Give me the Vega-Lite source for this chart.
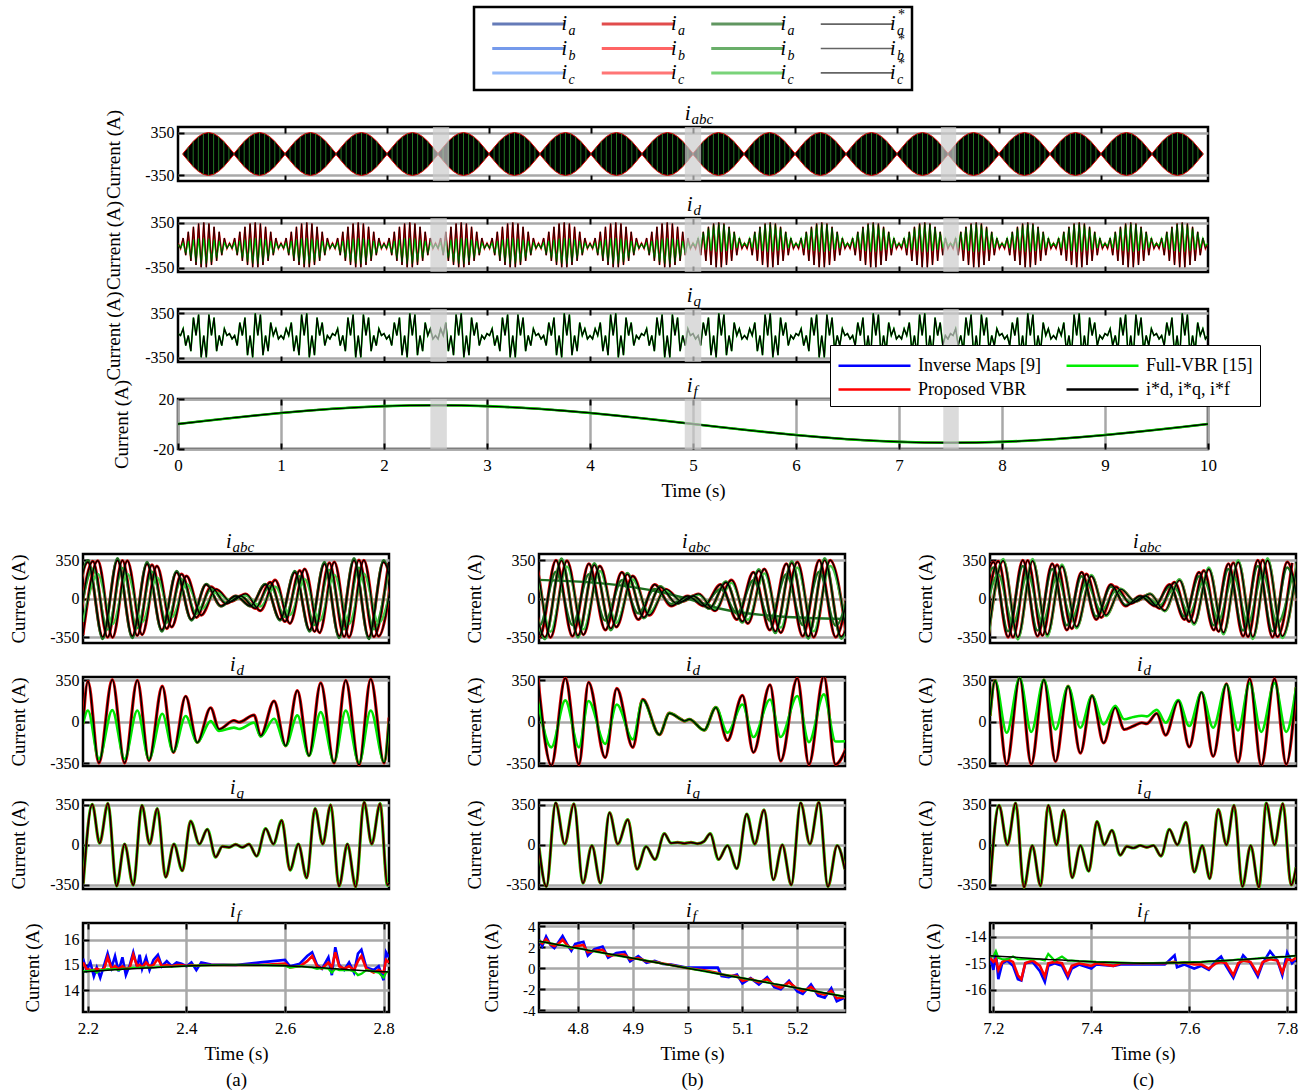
{
"$schema":"https://vega.github.io/schema/vega-lite/v6.json",
"background":"white",
"padding":{"left":8,"top":5,"right":5,"bottom":0},
"config":{
"font":"Liberation Serif",
"view":{"stroke":"black","strokeWidth":2.5},
"axis":{"labelFont":"Liberation Serif","titleFont":"Liberation Serif","labelFontSize":16,"titleFontSize":19,"titleFontWeight":"normal","labelColor":"black","titleColor":"black","domain":false,"tickColor":"black","tickWidth":2,"tickSize":-6,"labelPadding":10,"gridColor":"#a8a8a8","gridWidth":2.5,"gridOpacity":1,"labelFlush":false,"labelOverlap":false,"labelExpr":"'' + datum.value"},
"axisQuantitative":{"labelOverlap":false},
"axisY":{"titlePadding":21,"labelOverlap":false},
"axisX":{"titlePadding":8,"labelPadding":14},
"legend":{"labelFont":"Liberation Serif","labelFontSize":18,"labelColor":"black","strokeColor":"black","fillColor":"white","padding":7,"symbolType":"M-3,0H3","symbolSize":576,"symbolStrokeWidth":2.5,"symbolOffset":24,"columnPadding":20,"rowPadding":1,"labelLimit":300,"labelOffset":30}
},
"datasets":{
"leg":[{"m":"Inverse Maps [9]","p":"a","s":"IMa"},{"m":"Inverse Maps [9]","p":"b","s":"IMb"},{"m":"Inverse Maps [9]","p":"c","s":"IMc"},{"m":"Proposed VBR","p":"a","s":"PVa"},{"m":"Proposed VBR","p":"b","s":"PVb"},{"m":"Proposed VBR","p":"c","s":"PVc"},{"m":"Full-VBR [15]","p":"a","s":"FVa"},{"m":"Full-VBR [15]","p":"b","s":"FVb"},{"m":"Full-VBR [15]","p":"c","s":"FVc"},{"m":"Reference","p":"a","s":"Ra"},{"m":"Reference","p":"b","s":"Rb"},{"m":"Reference","p":"c","s":"Rc"}],
"bands":[{"s":2.45,"e":2.61},{"s":4.92,"e":5.08},{"s":7.43,"e":7.58}],
"topE":[
{"t":0,"u":10,"n":-10},{"t":0.05,"u":108,"n":-108},{"t":0.1,"u":206,"n":-206},{"t":0.15,"u":283,"n":-283},{"t":0.2,"u":333,"n":-333},{"t":0.25,"u":350,"n":-350},{"t":0.3,"u":333,"n":-333},{"t":0.35,"u":283,"n":-283},{"t":0.4,"u":206,"n":-206},{"t":0.45,"u":108,"n":-108},
{"t":0.5,"u":10,"n":-10},{"t":0.55,"u":108,"n":-108},{"t":0.6,"u":206,"n":-206},{"t":0.65,"u":283,"n":-283},{"t":0.7,"u":333,"n":-333},{"t":0.75,"u":350,"n":-350},{"t":0.8,"u":333,"n":-333},{"t":0.85,"u":283,"n":-283},{"t":0.9,"u":206,"n":-206},{"t":0.95,"u":108,"n":-108},
{"t":1,"u":10,"n":-10},{"t":1.05,"u":108,"n":-108},{"t":1.1,"u":206,"n":-206},{"t":1.15,"u":283,"n":-283},{"t":1.2,"u":333,"n":-333},{"t":1.25,"u":350,"n":-350},{"t":1.3,"u":333,"n":-333},{"t":1.35,"u":283,"n":-283},{"t":1.4,"u":206,"n":-206},{"t":1.45,"u":108,"n":-108},
{"t":1.5,"u":10,"n":-10},{"t":1.55,"u":108,"n":-108},{"t":1.6,"u":206,"n":-206},{"t":1.65,"u":283,"n":-283},{"t":1.7,"u":333,"n":-333},{"t":1.75,"u":350,"n":-350},{"t":1.8,"u":333,"n":-333},{"t":1.85,"u":283,"n":-283},{"t":1.9,"u":206,"n":-206},{"t":1.95,"u":108,"n":-108},
{"t":2,"u":10,"n":-10},{"t":2.05,"u":108,"n":-108},{"t":2.1,"u":206,"n":-206},{"t":2.15,"u":283,"n":-283},{"t":2.2,"u":333,"n":-333},{"t":2.25,"u":350,"n":-350},{"t":2.3,"u":333,"n":-333},{"t":2.35,"u":283,"n":-283},{"t":2.4,"u":206,"n":-206},{"t":2.45,"u":108,"n":-108},
{"t":2.5,"u":10,"n":-10},{"t":2.55,"u":108,"n":-108},{"t":2.6,"u":206,"n":-206},{"t":2.65,"u":283,"n":-283},{"t":2.7,"u":333,"n":-333},{"t":2.75,"u":350,"n":-350},{"t":2.8,"u":333,"n":-333},{"t":2.85,"u":283,"n":-283},{"t":2.9,"u":206,"n":-206},{"t":2.95,"u":108,"n":-108},
{"t":3,"u":10,"n":-10},{"t":3.05,"u":108,"n":-108},{"t":3.1,"u":206,"n":-206},{"t":3.15,"u":283,"n":-283},{"t":3.2,"u":333,"n":-333},{"t":3.25,"u":350,"n":-350},{"t":3.3,"u":333,"n":-333},{"t":3.35,"u":283,"n":-283},{"t":3.4,"u":206,"n":-206},{"t":3.45,"u":108,"n":-108},
{"t":3.5,"u":10,"n":-10},{"t":3.55,"u":108,"n":-108},{"t":3.6,"u":206,"n":-206},{"t":3.65,"u":283,"n":-283},{"t":3.7,"u":333,"n":-333},{"t":3.75,"u":350,"n":-350},{"t":3.8,"u":333,"n":-333},{"t":3.85,"u":283,"n":-283},{"t":3.9,"u":206,"n":-206},{"t":3.95,"u":108,"n":-108},
{"t":4,"u":10,"n":-10},{"t":4.05,"u":108,"n":-108},{"t":4.1,"u":206,"n":-206},{"t":4.15,"u":283,"n":-283},{"t":4.2,"u":333,"n":-333},{"t":4.25,"u":350,"n":-350},{"t":4.3,"u":333,"n":-333},{"t":4.35,"u":283,"n":-283},{"t":4.4,"u":206,"n":-206},{"t":4.45,"u":108,"n":-108},
{"t":4.5,"u":10,"n":-10},{"t":4.55,"u":108,"n":-108},{"t":4.6,"u":206,"n":-206},{"t":4.65,"u":283,"n":-283},{"t":4.7,"u":333,"n":-333},{"t":4.75,"u":350,"n":-350},{"t":4.8,"u":333,"n":-333},{"t":4.85,"u":283,"n":-283},{"t":4.9,"u":206,"n":-206},{"t":4.95,"u":108,"n":-108},
{"t":5,"u":10,"n":-10},{"t":5.05,"u":108,"n":-108},{"t":5.1,"u":206,"n":-206},{"t":5.15,"u":283,"n":-283},{"t":5.2,"u":333,"n":-333},{"t":5.25,"u":350,"n":-350},{"t":5.3,"u":333,"n":-333},{"t":5.35,"u":283,"n":-283},{"t":5.4,"u":206,"n":-206},{"t":5.45,"u":108,"n":-108},
{"t":5.5,"u":10,"n":-10},{"t":5.55,"u":108,"n":-108},{"t":5.6,"u":206,"n":-206},{"t":5.65,"u":283,"n":-283},{"t":5.7,"u":333,"n":-333},{"t":5.75,"u":350,"n":-350},{"t":5.8,"u":333,"n":-333},{"t":5.85,"u":283,"n":-283},{"t":5.9,"u":206,"n":-206},{"t":5.95,"u":108,"n":-108},
{"t":6,"u":10,"n":-10},{"t":6.05,"u":108,"n":-108},{"t":6.1,"u":206,"n":-206},{"t":6.15,"u":283,"n":-283},{"t":6.2,"u":333,"n":-333},{"t":6.25,"u":350,"n":-350},{"t":6.3,"u":333,"n":-333},{"t":6.35,"u":283,"n":-283},{"t":6.4,"u":206,"n":-206},{"t":6.45,"u":108,"n":-108},
{"t":6.5,"u":10,"n":-10},{"t":6.55,"u":108,"n":-108},{"t":6.6,"u":206,"n":-206},{"t":6.65,"u":283,"n":-283},{"t":6.7,"u":333,"n":-333},{"t":6.75,"u":350,"n":-350},{"t":6.8,"u":333,"n":-333},{"t":6.85,"u":283,"n":-283},{"t":6.9,"u":206,"n":-206},{"t":6.95,"u":108,"n":-108},
{"t":7,"u":10,"n":-10},{"t":7.05,"u":108,"n":-108},{"t":7.1,"u":206,"n":-206},{"t":7.15,"u":283,"n":-283},{"t":7.2,"u":333,"n":-333},{"t":7.25,"u":350,"n":-350},{"t":7.3,"u":333,"n":-333},{"t":7.35,"u":283,"n":-283},{"t":7.4,"u":206,"n":-206},{"t":7.45,"u":108,"n":-108},
{"t":7.5,"u":10,"n":-10},{"t":7.55,"u":108,"n":-108},{"t":7.6,"u":206,"n":-206},{"t":7.65,"u":283,"n":-283},{"t":7.7,"u":333,"n":-333},{"t":7.75,"u":350,"n":-350},{"t":7.8,"u":333,"n":-333},{"t":7.85,"u":283,"n":-283},{"t":7.9,"u":206,"n":-206},{"t":7.95,"u":108,"n":-108},
{"t":8,"u":10,"n":-10},{"t":8.05,"u":108,"n":-108},{"t":8.1,"u":206,"n":-206},{"t":8.15,"u":283,"n":-283},{"t":8.2,"u":333,"n":-333},{"t":8.25,"u":350,"n":-350},{"t":8.3,"u":333,"n":-333},{"t":8.35,"u":283,"n":-283},{"t":8.4,"u":206,"n":-206},{"t":8.45,"u":108,"n":-108},
{"t":8.5,"u":10,"n":-10},{"t":8.55,"u":108,"n":-108},{"t":8.6,"u":206,"n":-206},{"t":8.65,"u":283,"n":-283},{"t":8.7,"u":333,"n":-333},{"t":8.75,"u":350,"n":-350},{"t":8.8,"u":333,"n":-333},{"t":8.85,"u":283,"n":-283},{"t":8.9,"u":206,"n":-206},{"t":8.95,"u":108,"n":-108},
{"t":9,"u":10,"n":-10},{"t":9.05,"u":108,"n":-108},{"t":9.1,"u":206,"n":-206},{"t":9.15,"u":283,"n":-283},{"t":9.2,"u":333,"n":-333},{"t":9.25,"u":350,"n":-350},{"t":9.3,"u":333,"n":-333},{"t":9.35,"u":283,"n":-283},{"t":9.4,"u":206,"n":-206},{"t":9.45,"u":108,"n":-108},
{"t":9.5,"u":10,"n":-10},{"t":9.55,"u":108,"n":-108},{"t":9.6,"u":206,"n":-206},{"t":9.65,"u":283,"n":-283},{"t":9.7,"u":333,"n":-333},{"t":9.75,"u":350,"n":-350},{"t":9.8,"u":333,"n":-333},{"t":9.85,"u":283,"n":-283},{"t":9.9,"u":206,"n":-206},{"t":9.95,"u":108,"n":-108},
{"t":10,"u":10,"n":-10}],
"top":[
{"t":0,"d":30,"g":9,"q":30},{"t":0.025,"d":-55,"g":-47,"q":0},{"t":0.05,"d":108,"g":32,"q":108},{"t":0.075,"d":-159,"g":-135,"q":-159},{"t":0.1,"d":206,"g":62,"q":0},{"t":0.125,"d":-247,"g":-210,"q":-247},{"t":0.15,"d":283,"g":85,"q":283},{"t":0.175,"d":-312,"g":-265,"q":0},{"t":0.2,"d":333,"g":100,"q":333},{"t":0.225,"d":-346,"g":-294,"q":-346},{"t":0.25,"d":350,"g":105,"q":0},{"t":0.275,"d":-346,"g":-294,"q":-346},{"t":0.3,"d":333,"g":100,"q":333},{"t":0.325,"d":-312,"g":-265,"q":0},{"t":0.35,"d":283,"g":85,"q":283},{"t":0.375,"d":-247,"g":-210,"q":-247},{"t":0.4,"d":206,"g":62,"q":0},{"t":0.425,"d":-159,"g":-135,"q":-159},{"t":0.45,"d":108,"g":32,"q":108},{"t":0.475,"d":-55,"g":-47,"q":0},
{"t":0.5,"d":30,"g":9,"q":30},{"t":0.525,"d":-55,"g":-47,"q":-55},{"t":0.55,"d":108,"g":32,"q":0},{"t":0.575,"d":-159,"g":-135,"q":-159},{"t":0.6,"d":206,"g":62,"q":206},{"t":0.625,"d":-247,"g":-210,"q":0},{"t":0.65,"d":283,"g":85,"q":283},{"t":0.675,"d":-312,"g":-265,"q":-312},{"t":0.7,"d":333,"g":100,"q":0},{"t":0.725,"d":-346,"g":-294,"q":-346},{"t":0.75,"d":350,"g":105,"q":350},{"t":0.775,"d":-346,"g":-294,"q":0},{"t":0.8,"d":333,"g":100,"q":333},{"t":0.825,"d":-312,"g":-265,"q":-312},{"t":0.85,"d":283,"g":85,"q":0},{"t":0.875,"d":-247,"g":-210,"q":-247},{"t":0.9,"d":206,"g":62,"q":206},{"t":0.925,"d":-159,"g":-135,"q":0},{"t":0.95,"d":108,"g":32,"q":108},{"t":0.975,"d":-55,"g":-47,"q":-55},
{"t":1,"d":30,"g":9,"q":0},{"t":1.025,"d":-55,"g":-47,"q":-55},{"t":1.05,"d":108,"g":32,"q":108},{"t":1.075,"d":-159,"g":-135,"q":0},{"t":1.1,"d":206,"g":62,"q":206},{"t":1.125,"d":-247,"g":-210,"q":-247},{"t":1.15,"d":283,"g":85,"q":0},{"t":1.175,"d":-312,"g":-265,"q":-312},{"t":1.2,"d":333,"g":100,"q":333},{"t":1.225,"d":-346,"g":-294,"q":0},{"t":1.25,"d":350,"g":105,"q":350},{"t":1.275,"d":-346,"g":-294,"q":-346},{"t":1.3,"d":333,"g":100,"q":0},{"t":1.325,"d":-312,"g":-265,"q":-312},{"t":1.35,"d":283,"g":85,"q":283},{"t":1.375,"d":-247,"g":-210,"q":0},{"t":1.4,"d":206,"g":62,"q":206},{"t":1.425,"d":-159,"g":-135,"q":-159},{"t":1.45,"d":108,"g":32,"q":0},{"t":1.475,"d":-55,"g":-47,"q":-55},
{"t":1.5,"d":30,"g":9,"q":30},{"t":1.525,"d":-55,"g":-47,"q":0},{"t":1.55,"d":108,"g":32,"q":108},{"t":1.575,"d":-159,"g":-135,"q":-159},{"t":1.6,"d":206,"g":62,"q":0},{"t":1.625,"d":-247,"g":-210,"q":-247},{"t":1.65,"d":283,"g":85,"q":283},{"t":1.675,"d":-312,"g":-265,"q":0},{"t":1.7,"d":333,"g":100,"q":333},{"t":1.725,"d":-346,"g":-294,"q":-346},{"t":1.75,"d":350,"g":105,"q":0},{"t":1.775,"d":-346,"g":-294,"q":-346},{"t":1.8,"d":333,"g":100,"q":333},{"t":1.825,"d":-312,"g":-265,"q":0},{"t":1.85,"d":283,"g":85,"q":283},{"t":1.875,"d":-247,"g":-210,"q":-247},{"t":1.9,"d":206,"g":62,"q":0},{"t":1.925,"d":-159,"g":-135,"q":-159},{"t":1.95,"d":108,"g":32,"q":108},{"t":1.975,"d":-55,"g":-47,"q":0},
{"t":2,"d":30,"g":9,"q":30},{"t":2.025,"d":-55,"g":-47,"q":-55},{"t":2.05,"d":108,"g":32,"q":0},{"t":2.075,"d":-159,"g":-135,"q":-159},{"t":2.1,"d":206,"g":62,"q":206},{"t":2.125,"d":-247,"g":-210,"q":0},{"t":2.15,"d":283,"g":85,"q":283},{"t":2.175,"d":-312,"g":-265,"q":-312},{"t":2.2,"d":333,"g":100,"q":0},{"t":2.225,"d":-346,"g":-294,"q":-346},{"t":2.25,"d":350,"g":105,"q":350},{"t":2.275,"d":-346,"g":-294,"q":0},{"t":2.3,"d":333,"g":100,"q":333},{"t":2.325,"d":-312,"g":-265,"q":-312},{"t":2.35,"d":283,"g":85,"q":0},{"t":2.375,"d":-247,"g":-210,"q":-247},{"t":2.4,"d":206,"g":62,"q":206},{"t":2.425,"d":-159,"g":-135,"q":0},{"t":2.45,"d":108,"g":32,"q":108},{"t":2.475,"d":-55,"g":-47,"q":-55},
{"t":2.5,"d":30,"g":9,"q":0},{"t":2.525,"d":-55,"g":-47,"q":-55},{"t":2.55,"d":108,"g":32,"q":108},{"t":2.575,"d":-159,"g":-135,"q":0},{"t":2.6,"d":206,"g":62,"q":206},{"t":2.625,"d":-247,"g":-210,"q":-247},{"t":2.65,"d":283,"g":85,"q":0},{"t":2.675,"d":-312,"g":-265,"q":-312},{"t":2.7,"d":333,"g":100,"q":333},{"t":2.725,"d":-346,"g":-294,"q":0},{"t":2.75,"d":350,"g":105,"q":350},{"t":2.775,"d":-346,"g":-294,"q":-346},{"t":2.8,"d":333,"g":100,"q":0},{"t":2.825,"d":-312,"g":-265,"q":-312},{"t":2.85,"d":283,"g":85,"q":283},{"t":2.875,"d":-247,"g":-210,"q":0},{"t":2.9,"d":206,"g":62,"q":206},{"t":2.925,"d":-159,"g":-135,"q":-159},{"t":2.95,"d":108,"g":32,"q":0},{"t":2.975,"d":-55,"g":-47,"q":-55},
{"t":3,"d":30,"g":9,"q":30},{"t":3.025,"d":-55,"g":-47,"q":0},{"t":3.05,"d":108,"g":32,"q":108},{"t":3.075,"d":-159,"g":-135,"q":-159},{"t":3.1,"d":206,"g":62,"q":0},{"t":3.125,"d":-247,"g":-210,"q":-247},{"t":3.15,"d":283,"g":85,"q":283},{"t":3.175,"d":-312,"g":-265,"q":0},{"t":3.2,"d":333,"g":100,"q":333},{"t":3.225,"d":-346,"g":-294,"q":-346},{"t":3.25,"d":350,"g":105,"q":0},{"t":3.275,"d":-346,"g":-294,"q":-346},{"t":3.3,"d":333,"g":100,"q":333},{"t":3.325,"d":-312,"g":-265,"q":0},{"t":3.35,"d":283,"g":85,"q":283},{"t":3.375,"d":-247,"g":-210,"q":-247},{"t":3.4,"d":206,"g":62,"q":0},{"t":3.425,"d":-159,"g":-135,"q":-159},{"t":3.45,"d":108,"g":32,"q":108},{"t":3.475,"d":-55,"g":-47,"q":0},
{"t":3.5,"d":30,"g":9,"q":30},{"t":3.525,"d":-55,"g":-47,"q":-55},{"t":3.55,"d":108,"g":32,"q":0},{"t":3.575,"d":-159,"g":-135,"q":-159},{"t":3.6,"d":206,"g":62,"q":206},{"t":3.625,"d":-247,"g":-210,"q":0},{"t":3.65,"d":283,"g":85,"q":283},{"t":3.675,"d":-312,"g":-265,"q":-312},{"t":3.7,"d":333,"g":100,"q":0},{"t":3.725,"d":-346,"g":-294,"q":-346},{"t":3.75,"d":350,"g":105,"q":350},{"t":3.775,"d":-346,"g":-294,"q":0},{"t":3.8,"d":333,"g":100,"q":333},{"t":3.825,"d":-312,"g":-265,"q":-312},{"t":3.85,"d":283,"g":85,"q":0},{"t":3.875,"d":-247,"g":-210,"q":-247},{"t":3.9,"d":206,"g":62,"q":206},{"t":3.925,"d":-159,"g":-135,"q":0},{"t":3.95,"d":108,"g":32,"q":108},{"t":3.975,"d":-55,"g":-47,"q":-55},
{"t":4,"d":30,"g":9,"q":0},{"t":4.025,"d":-55,"g":-47,"q":-55},{"t":4.05,"d":108,"g":32,"q":108},{"t":4.075,"d":-159,"g":-135,"q":0},{"t":4.1,"d":206,"g":62,"q":206},{"t":4.125,"d":-247,"g":-210,"q":-247},{"t":4.15,"d":283,"g":85,"q":0},{"t":4.175,"d":-312,"g":-265,"q":-312},{"t":4.2,"d":333,"g":100,"q":333},{"t":4.225,"d":-346,"g":-294,"q":0},{"t":4.25,"d":350,"g":105,"q":350},{"t":4.275,"d":-346,"g":-294,"q":-346},{"t":4.3,"d":333,"g":100,"q":0},{"t":4.325,"d":-312,"g":-265,"q":-312},{"t":4.35,"d":283,"g":85,"q":283},{"t":4.375,"d":-247,"g":-210,"q":0},{"t":4.4,"d":206,"g":62,"q":206},{"t":4.425,"d":-159,"g":-135,"q":-159},{"t":4.45,"d":108,"g":32,"q":0},{"t":4.475,"d":-55,"g":-47,"q":-55},
{"t":4.5,"d":30,"g":9,"q":30},{"t":4.525,"d":-55,"g":-47,"q":0},{"t":4.55,"d":108,"g":32,"q":108},{"t":4.575,"d":-159,"g":-135,"q":-159},{"t":4.6,"d":206,"g":62,"q":0},{"t":4.625,"d":-247,"g":-210,"q":-247},{"t":4.65,"d":283,"g":85,"q":283},{"t":4.675,"d":-312,"g":-265,"q":0},{"t":4.7,"d":333,"g":100,"q":333},{"t":4.725,"d":-346,"g":-294,"q":-346},{"t":4.75,"d":350,"g":105,"q":0},{"t":4.775,"d":-346,"g":-294,"q":-346},{"t":4.8,"d":333,"g":100,"q":333},{"t":4.825,"d":-312,"g":-265,"q":0},{"t":4.85,"d":283,"g":85,"q":283},{"t":4.875,"d":-247,"g":-210,"q":-247},{"t":4.9,"d":206,"g":62,"q":0},{"t":4.925,"d":-159,"g":-135,"q":-159},{"t":4.95,"d":108,"g":32,"q":108},{"t":4.975,"d":-55,"g":-47,"q":0},
{"t":5,"d":30,"g":28,"q":30},{"t":5.025,"d":-55,"g":-16,"q":-55},{"t":5.05,"d":108,"g":103,"q":0},{"t":5.075,"d":-159,"g":-48,"q":-159},{"t":5.1,"d":206,"g":196,"q":206},{"t":5.125,"d":-247,"g":-74,"q":0},{"t":5.15,"d":283,"g":269,"q":283},{"t":5.175,"d":-312,"g":-94,"q":-312},{"t":5.2,"d":333,"g":316,"q":0},{"t":5.225,"d":-346,"g":-104,"q":-346},{"t":5.25,"d":350,"g":333,"q":350},{"t":5.275,"d":-346,"g":-104,"q":0},{"t":5.3,"d":333,"g":316,"q":333},{"t":5.325,"d":-312,"g":-94,"q":-312},{"t":5.35,"d":283,"g":269,"q":0},{"t":5.375,"d":-247,"g":-74,"q":-247},{"t":5.4,"d":206,"g":196,"q":206},{"t":5.425,"d":-159,"g":-48,"q":0},{"t":5.45,"d":108,"g":103,"q":108},{"t":5.475,"d":-55,"g":-16,"q":-55},
{"t":5.5,"d":30,"g":28,"q":0},{"t":5.525,"d":-55,"g":-16,"q":-55},{"t":5.55,"d":108,"g":103,"q":108},{"t":5.575,"d":-159,"g":-48,"q":0},{"t":5.6,"d":206,"g":196,"q":206},{"t":5.625,"d":-247,"g":-74,"q":-247},{"t":5.65,"d":283,"g":269,"q":0},{"t":5.675,"d":-312,"g":-94,"q":-312},{"t":5.7,"d":333,"g":316,"q":333},{"t":5.725,"d":-346,"g":-104,"q":0},{"t":5.75,"d":350,"g":333,"q":350},{"t":5.775,"d":-346,"g":-104,"q":-346},{"t":5.8,"d":333,"g":316,"q":0},{"t":5.825,"d":-312,"g":-94,"q":-312},{"t":5.85,"d":283,"g":269,"q":283},{"t":5.875,"d":-247,"g":-74,"q":0},{"t":5.9,"d":206,"g":196,"q":206},{"t":5.925,"d":-159,"g":-48,"q":-159},{"t":5.95,"d":108,"g":103,"q":0},{"t":5.975,"d":-55,"g":-16,"q":-55},
{"t":6,"d":30,"g":28,"q":30},{"t":6.025,"d":-55,"g":-16,"q":0},{"t":6.05,"d":108,"g":103,"q":108},{"t":6.075,"d":-159,"g":-48,"q":-159},{"t":6.1,"d":206,"g":196,"q":0},{"t":6.125,"d":-247,"g":-74,"q":-247},{"t":6.15,"d":283,"g":269,"q":283},{"t":6.175,"d":-312,"g":-94,"q":0},{"t":6.2,"d":333,"g":316,"q":333},{"t":6.225,"d":-346,"g":-104,"q":-346},{"t":6.25,"d":350,"g":333,"q":0},{"t":6.275,"d":-346,"g":-104,"q":-346},{"t":6.3,"d":333,"g":316,"q":333},{"t":6.325,"d":-312,"g":-94,"q":0},{"t":6.35,"d":283,"g":269,"q":283},{"t":6.375,"d":-247,"g":-74,"q":-247},{"t":6.4,"d":206,"g":196,"q":0},{"t":6.425,"d":-159,"g":-48,"q":-159},{"t":6.45,"d":108,"g":103,"q":108},{"t":6.475,"d":-55,"g":-16,"q":0},
{"t":6.5,"d":30,"g":28,"q":30},{"t":6.525,"d":-55,"g":-16,"q":-55},{"t":6.55,"d":108,"g":103,"q":0},{"t":6.575,"d":-159,"g":-48,"q":-159},{"t":6.6,"d":206,"g":196,"q":206},{"t":6.625,"d":-247,"g":-74,"q":0},{"t":6.65,"d":283,"g":269,"q":283},{"t":6.675,"d":-312,"g":-94,"q":-312},{"t":6.7,"d":333,"g":316,"q":0},{"t":6.725,"d":-346,"g":-104,"q":-346},{"t":6.75,"d":350,"g":333,"q":350},{"t":6.775,"d":-346,"g":-104,"q":0},{"t":6.8,"d":333,"g":316,"q":333},{"t":6.825,"d":-312,"g":-94,"q":-312},{"t":6.85,"d":283,"g":269,"q":0},{"t":6.875,"d":-247,"g":-74,"q":-247},{"t":6.9,"d":206,"g":196,"q":206},{"t":6.925,"d":-159,"g":-48,"q":0},{"t":6.95,"d":108,"g":103,"q":108},{"t":6.975,"d":-55,"g":-16,"q":-55},
{"t":7,"d":30,"g":28,"q":0},{"t":7.025,"d":-55,"g":-16,"q":-55},{"t":7.05,"d":108,"g":103,"q":108},{"t":7.075,"d":-159,"g":-48,"q":0},{"t":7.1,"d":206,"g":196,"q":206},{"t":7.125,"d":-247,"g":-74,"q":-247},{"t":7.15,"d":283,"g":269,"q":0},{"t":7.175,"d":-312,"g":-94,"q":-312},{"t":7.2,"d":333,"g":316,"q":333},{"t":7.225,"d":-346,"g":-104,"q":0},{"t":7.25,"d":350,"g":333,"q":350},{"t":7.275,"d":-346,"g":-104,"q":-346},{"t":7.3,"d":333,"g":316,"q":0},{"t":7.325,"d":-312,"g":-94,"q":-312},{"t":7.35,"d":283,"g":269,"q":283},{"t":7.375,"d":-247,"g":-74,"q":0},{"t":7.4,"d":206,"g":196,"q":206},{"t":7.425,"d":-159,"g":-48,"q":-159},{"t":7.45,"d":108,"g":103,"q":0},{"t":7.475,"d":-55,"g":-16,"q":-55},
{"t":7.5,"d":30,"g":28,"q":30},{"t":7.525,"d":-55,"g":-16,"q":0},{"t":7.55,"d":108,"g":103,"q":108},{"t":7.575,"d":-159,"g":-48,"q":-159},{"t":7.6,"d":206,"g":196,"q":0},{"t":7.625,"d":-247,"g":-74,"q":-247},{"t":7.65,"d":283,"g":269,"q":283},{"t":7.675,"d":-312,"g":-94,"q":0},{"t":7.7,"d":333,"g":316,"q":333},{"t":7.725,"d":-346,"g":-104,"q":-346},{"t":7.75,"d":350,"g":333,"q":0},{"t":7.775,"d":-346,"g":-104,"q":-346},{"t":7.8,"d":333,"g":316,"q":333},{"t":7.825,"d":-312,"g":-94,"q":0},{"t":7.85,"d":283,"g":269,"q":283},{"t":7.875,"d":-247,"g":-74,"q":-247},{"t":7.9,"d":206,"g":196,"q":0},{"t":7.925,"d":-159,"g":-48,"q":-159},{"t":7.95,"d":108,"g":103,"q":108},{"t":7.975,"d":-55,"g":-16,"q":0},
{"t":8,"d":30,"g":28,"q":30},{"t":8.025,"d":-55,"g":-16,"q":-55},{"t":8.05,"d":108,"g":103,"q":0},{"t":8.075,"d":-159,"g":-48,"q":-159},{"t":8.1,"d":206,"g":196,"q":206},{"t":8.125,"d":-247,"g":-74,"q":0},{"t":8.15,"d":283,"g":269,"q":283},{"t":8.175,"d":-312,"g":-94,"q":-312},{"t":8.2,"d":333,"g":316,"q":0},{"t":8.225,"d":-346,"g":-104,"q":-346},{"t":8.25,"d":350,"g":333,"q":350},{"t":8.275,"d":-346,"g":-104,"q":0},{"t":8.3,"d":333,"g":316,"q":333},{"t":8.325,"d":-312,"g":-94,"q":-312},{"t":8.35,"d":283,"g":269,"q":0},{"t":8.375,"d":-247,"g":-74,"q":-247},{"t":8.4,"d":206,"g":196,"q":206},{"t":8.425,"d":-159,"g":-48,"q":0},{"t":8.45,"d":108,"g":103,"q":108},{"t":8.475,"d":-55,"g":-16,"q":-55},
{"t":8.5,"d":30,"g":28,"q":0},{"t":8.525,"d":-55,"g":-16,"q":-55},{"t":8.55,"d":108,"g":103,"q":108},{"t":8.575,"d":-159,"g":-48,"q":0},{"t":8.6,"d":206,"g":196,"q":206},{"t":8.625,"d":-247,"g":-74,"q":-247},{"t":8.65,"d":283,"g":269,"q":0},{"t":8.675,"d":-312,"g":-94,"q":-312},{"t":8.7,"d":333,"g":316,"q":333},{"t":8.725,"d":-346,"g":-104,"q":0},{"t":8.75,"d":350,"g":333,"q":350},{"t":8.775,"d":-346,"g":-104,"q":-346},{"t":8.8,"d":333,"g":316,"q":0},{"t":8.825,"d":-312,"g":-94,"q":-312},{"t":8.85,"d":283,"g":269,"q":283},{"t":8.875,"d":-247,"g":-74,"q":0},{"t":8.9,"d":206,"g":196,"q":206},{"t":8.925,"d":-159,"g":-48,"q":-159},{"t":8.95,"d":108,"g":103,"q":0},{"t":8.975,"d":-55,"g":-16,"q":-55},
{"t":9,"d":30,"g":28,"q":30},{"t":9.025,"d":-55,"g":-16,"q":0},{"t":9.05,"d":108,"g":103,"q":108},{"t":9.075,"d":-159,"g":-48,"q":-159},{"t":9.1,"d":206,"g":196,"q":0},{"t":9.125,"d":-247,"g":-74,"q":-247},{"t":9.15,"d":283,"g":269,"q":283},{"t":9.175,"d":-312,"g":-94,"q":0},{"t":9.2,"d":333,"g":316,"q":333},{"t":9.225,"d":-346,"g":-104,"q":-346},{"t":9.25,"d":350,"g":333,"q":0},{"t":9.275,"d":-346,"g":-104,"q":-346},{"t":9.3,"d":333,"g":316,"q":333},{"t":9.325,"d":-312,"g":-94,"q":0},{"t":9.35,"d":283,"g":269,"q":283},{"t":9.375,"d":-247,"g":-74,"q":-247},{"t":9.4,"d":206,"g":196,"q":0},{"t":9.425,"d":-159,"g":-48,"q":-159},{"t":9.45,"d":108,"g":103,"q":108},{"t":9.475,"d":-55,"g":-16,"q":0},
{"t":9.5,"d":30,"g":28,"q":30},{"t":9.525,"d":-55,"g":-16,"q":-55},{"t":9.55,"d":108,"g":103,"q":0},{"t":9.575,"d":-159,"g":-48,"q":-159},{"t":9.6,"d":206,"g":196,"q":206},{"t":9.625,"d":-247,"g":-74,"q":0},{"t":9.65,"d":283,"g":269,"q":283},{"t":9.675,"d":-312,"g":-94,"q":-312},{"t":9.7,"d":333,"g":316,"q":0},{"t":9.725,"d":-346,"g":-104,"q":-346},{"t":9.75,"d":350,"g":333,"q":350},{"t":9.775,"d":-346,"g":-104,"q":0},{"t":9.8,"d":333,"g":316,"q":333},{"t":9.825,"d":-312,"g":-94,"q":-312},{"t":9.85,"d":283,"g":269,"q":0},{"t":9.875,"d":-247,"g":-74,"q":-247},{"t":9.9,"d":206,"g":196,"q":206},{"t":9.925,"d":-159,"g":-48,"q":0},{"t":9.95,"d":108,"g":103,"q":108},{"t":9.975,"d":-55,"g":-16,"q":-55},
{"t":10,"d":30,"g":28,"q":0}],
"topF":[{"t":0,"f":0},{"t":0.25,"f":2.35},{"t":0.5,"f":4.64},{"t":0.75,"f":6.81},{"t":1,"f":8.82},{"t":1.25,"f":10.61},{"t":1.5,"f":12.14},{"t":1.75,"f":13.37},{"t":2,"f":14.27},{"t":2.25,"f":14.82},{"t":2.5,"f":15},{"t":2.75,"f":14.82},{"t":3,"f":14.27},{"t":3.25,"f":13.37},{"t":3.5,"f":12.14},{"t":3.75,"f":10.61},{"t":4,"f":8.82},{"t":4.25,"f":6.81},{"t":4.5,"f":4.64},{"t":4.75,"f":2.35},{"t":5,"f":0},{"t":5.25,"f":-2.35},{"t":5.5,"f":-4.64},{"t":5.75,"f":-6.81},{"t":6,"f":-8.82},{"t":6.25,"f":-10.61},{"t":6.5,"f":-12.14},{"t":6.75,"f":-13.37},{"t":7,"f":-14.27},{"t":7.25,"f":-14.82},{"t":7.5,"f":-15},{"t":7.75,"f":-14.82},{"t":8,"f":-14.27},{"t":8.25,"f":-13.37},{"t":8.5,"f":-12.14},{"t":8.75,"f":-10.61},{"t":9,"f":-8.82},{"t":9.25,"f":-6.81},{"t":9.5,"f":-4.64},{"t":9.75,"f":-2.35},{"t":10,"f":0}],
"abcA":[{"t":2.17,"p":"a","v":-307,"g":-322},{"t":2.18,"p":"b","v":-317,"g":-254},{"t":2.19,"p":"c","v":-325,"g":-211},{"t":2.2,"p":"a","v":333,"g":350},{"t":2.21,"p":"b","v":339,"g":271},{"t":2.22,"p":"c","v":344,"g":224},{"t":2.23,"p":"a","v":-347,"g":-364},{"t":2.24,"p":"b","v":-349,"g":-279},{"t":2.25,"p":"c","v":-350,"g":-228},{"t":2.26,"p":"a","v":349,"g":366},{"t":2.27,"p":"b","v":347,"g":278},{"t":2.28,"p":"c","v":344,"g":224},{"t":2.29,"p":"a","v":-339,"g":-356},{"t":2.3,"p":"b","v":-333,"g":-266},{"t":2.31,"p":"c","v":-325,"g":-211},{"t":2.32,"p":"a","v":317,"g":333},{"t":2.33,"p":"b","v":307,"g":246},{"t":2.34,"p":"c","v":296,"g":192},{"t":2.35,"p":"a","v":-283,"g":-297},{"t":2.36,"p":"b","v":-270,"g":-216},{"t":2.37,"p":"c","v":-255,"g":-166},{"t":2.38,"p":"a","v":240,"g":252},{"t":2.39,"p":"b","v":223,"g":178},{"t":2.4,"p":"c","v":206,"g":134},{"t":2.41,"p":"a","v":-188,"g":-197},{"t":2.42,"p":"b","v":-169,"g":-135},{"t":2.43,"p":"c","v":-149,"g":-97},{"t":2.44,"p":"a","v":129,"g":135},{"t":2.45,"p":"b","v":108,"g":86},{"t":2.46,"p":"c","v":87,"g":57},{"t":2.47,"p":"a","v":-66,"g":-69},{"t":2.48,"p":"b","v":-44,"g":-35},{"t":2.49,"p":"c","v":-25,"g":-16},{"t":2.5,"p":"a","v":25,"g":26},{"t":2.51,"p":"b","v":25,"g":20},{"t":2.52,"p":"c","v":44,"g":29},{"t":2.53,"p":"a","v":-66,"g":-69},{"t":2.54,"p":"b","v":-87,"g":-70},{"t":2.55,"p":"c","v":-108,"g":-70},{"t":2.56,"p":"a","v":129,"g":135},{"t":2.57,"p":"b","v":149,"g":119},{"t":2.58,"p":"c","v":169,"g":110},{"t":2.59,"p":"a","v":-188,"g":-197},{"t":2.6,"p":"b","v":-206,"g":-165},{"t":2.61,"p":"c","v":-223,"g":-145},{"t":2.62,"p":"a","v":240,"g":252},{"t":2.63,"p":"b","v":255,"g":204},{"t":2.64,"p":"c","v":270,"g":176},{"t":2.65,"p":"a","v":-283,"g":-297},{"t":2.66,"p":"b","v":-296,"g":-237},{"t":2.67,"p":"c","v":-307,"g":-200},{"t":2.68,"p":"a","v":317,"g":333},{"t":2.69,"p":"b","v":325,"g":260},{"t":2.7,"p":"c","v":333,"g":216},{"t":2.71,"p":"a","v":-339,"g":-356},{"t":2.72,"p":"b","v":-344,"g":-275},{"t":2.73,"p":"c","v":-347,"g":-226},{"t":2.74,"p":"a","v":349,"g":366},{"t":2.75,"p":"b","v":350,"g":280},{"t":2.76,"p":"c","v":349,"g":227},{"t":2.77,"p":"a","v":-347,"g":-364},{"t":2.78,"p":"b","v":-344,"g":-275},{"t":2.79,"p":"c","v":-339,"g":-220},{"t":2.8,"p":"a","v":333,"g":350},{"t":2.81,"p":"b","v":325,"g":260},{"t":2.82,"p":"c","v":317,"g":206},{"t":2.83,"p":"a","v":-307,"g":-322}],
"abcB":[{"t":4.69,"p":"c","v":-325,"g":-276},{"t":4.7,"p":"a","v":333,"g":233},{"t":4.71,"p":"b","v":339,"g":356},{"t":4.72,"p":"c","v":344,"g":292},{"t":4.73,"p":"a","v":-347,"g":-243},{"t":4.74,"p":"b","v":-349,"g":-366},{"t":4.75,"p":"c","v":-350,"g":-298},{"t":4.76,"p":"a","v":349,"g":244},{"t":4.77,"p":"b","v":347,"g":364},{"t":4.78,"p":"c","v":344,"g":292},{"t":4.79,"p":"a","v":-339,"g":-237},{"t":4.8,"p":"b","v":-333,"g":-350},{"t":4.81,"p":"c","v":-325,"g":-276},{"t":4.82,"p":"a","v":317,"g":222},{"t":4.83,"p":"b","v":307,"g":322},{"t":4.84,"p":"c","v":296,"g":252},{"t":4.85,"p":"a","v":-283,"g":-198},{"t":4.86,"p":"b","v":-270,"g":-284},{"t":4.87,"p":"c","v":-255,"g":-217},{"t":4.88,"p":"a","v":240,"g":168},{"t":4.89,"p":"b","v":223,"g":234},{"t":4.9,"p":"c","v":206,"g":175},{"t":4.91,"p":"a","v":-188,"g":-132},{"t":4.92,"p":"b","v":-169,"g":-177},{"t":4.93,"p":"c","v":-149,"g":-127},{"t":4.94,"p":"a","v":129,"g":90},{"t":4.95,"p":"b","v":108,"g":113},{"t":4.96,"p":"c","v":87,"g":74},{"t":4.97,"p":"a","v":-66,"g":-46},{"t":4.98,"p":"b","v":-44,"g":-46},{"t":4.99,"p":"c","v":-25,"g":-21},{"t":5,"p":"a","v":25,"g":18},{"t":5.01,"p":"b","v":25,"g":26},{"t":5.02,"p":"c","v":44,"g":37},{"t":5.03,"p":"a","v":-66,"g":-46},{"t":5.04,"p":"b","v":-87,"g":-91},{"t":5.05,"p":"c","v":-108,"g":-92},{"t":5.06,"p":"a","v":129,"g":90},{"t":5.07,"p":"b","v":149,"g":156},{"t":5.08,"p":"c","v":169,"g":144},{"t":5.09,"p":"a","v":-188,"g":-132},{"t":5.1,"p":"b","v":-206,"g":-216},{"t":5.11,"p":"c","v":-223,"g":-190},{"t":5.12,"p":"a","v":240,"g":168},{"t":5.13,"p":"b","v":255,"g":268},{"t":5.14,"p":"c","v":270,"g":230},{"t":5.15,"p":"a","v":-283,"g":-198},{"t":5.16,"p":"b","v":-296,"g":-311},{"t":5.17,"p":"c","v":-307,"g":-261},{"t":5.18,"p":"a","v":317,"g":222},{"t":5.19,"p":"b","v":325,"g":341},{"t":5.2,"p":"c","v":333,"g":283},{"t":5.21,"p":"a","v":-339,"g":-237},{"t":5.22,"p":"b","v":-344,"g":-361},{"t":5.23,"p":"c","v":-347,"g":-295},{"t":5.24,"p":"a","v":349,"g":244},{"t":5.25,"p":"b","v":350,"g":368},{"t":5.26,"p":"c","v":349,"g":297},{"t":5.27,"p":"a","v":-347,"g":-243},{"t":5.28,"p":"b","v":-344,"g":-361},{"t":5.29,"p":"c","v":-339,"g":-288},{"t":5.3,"p":"a","v":333,"g":233},{"t":5.31,"p":"b","v":325,"g":341}],
"slowB":[{"t":4.72,"g":172},{"t":4.87,"g":126},{"t":4.93,"g":80},{"t":5.0,"g":0},{"t":5.06,"g":-90},{"t":5.17,"g":-160},{"t":5.29,"g":-182}],
"abcC":[{"t":7.17,"p":"a","v":-307,"g":-261},{"t":7.18,"p":"b","v":-317,"g":-206},{"t":7.19,"p":"c","v":-325,"g":-341},{"t":7.2,"p":"a","v":333,"g":283},{"t":7.21,"p":"b","v":339,"g":220},{"t":7.22,"p":"c","v":344,"g":361},{"t":7.23,"p":"a","v":-347,"g":-295},{"t":7.24,"p":"b","v":-349,"g":-227},{"t":7.25,"p":"c","v":-350,"g":-368},{"t":7.26,"p":"a","v":349,"g":297},{"t":7.27,"p":"b","v":347,"g":226},{"t":7.28,"p":"c","v":344,"g":361},{"t":7.29,"p":"a","v":-339,"g":-288},{"t":7.3,"p":"b","v":-333,"g":-216},{"t":7.31,"p":"c","v":-325,"g":-341},{"t":7.32,"p":"a","v":317,"g":269},{"t":7.33,"p":"b","v":307,"g":200},{"t":7.34,"p":"c","v":296,"g":311},{"t":7.35,"p":"a","v":-283,"g":-241},{"t":7.36,"p":"b","v":-270,"g":-176},{"t":7.37,"p":"c","v":-255,"g":-268},{"t":7.38,"p":"a","v":240,"g":204},{"t":7.39,"p":"b","v":223,"g":145},{"t":7.4,"p":"c","v":206,"g":216},{"t":7.41,"p":"a","v":-188,"g":-160},{"t":7.42,"p":"b","v":-169,"g":-110},{"t":7.43,"p":"c","v":-149,"g":-156},{"t":7.44,"p":"a","v":129,"g":110},{"t":7.45,"p":"b","v":108,"g":70},{"t":7.46,"p":"c","v":87,"g":91},{"t":7.47,"p":"a","v":-66,"g":-56},{"t":7.48,"p":"b","v":-44,"g":-29},{"t":7.49,"p":"c","v":-25,"g":-26},{"t":7.5,"p":"a","v":25,"g":21},{"t":7.51,"p":"b","v":25,"g":16},{"t":7.52,"p":"c","v":44,"g":46},{"t":7.53,"p":"a","v":-66,"g":-56},{"t":7.54,"p":"b","v":-87,"g":-57},{"t":7.55,"p":"c","v":-108,"g":-113},{"t":7.56,"p":"a","v":129,"g":110},{"t":7.57,"p":"b","v":149,"g":97},{"t":7.58,"p":"c","v":169,"g":177},{"t":7.59,"p":"a","v":-188,"g":-160},{"t":7.6,"p":"b","v":-206,"g":-134},{"t":7.61,"p":"c","v":-223,"g":-234},{"t":7.62,"p":"a","v":240,"g":204},{"t":7.63,"p":"b","v":255,"g":166},{"t":7.64,"p":"c","v":270,"g":284},{"t":7.65,"p":"a","v":-283,"g":-241},{"t":7.66,"p":"b","v":-296,"g":-192},{"t":7.67,"p":"c","v":-307,"g":-322},{"t":7.68,"p":"a","v":317,"g":269},{"t":7.69,"p":"b","v":325,"g":211},{"t":7.7,"p":"c","v":333,"g":350},{"t":7.71,"p":"a","v":-339,"g":-288},{"t":7.72,"p":"b","v":-344,"g":-224},{"t":7.73,"p":"c","v":-347,"g":-364},{"t":7.74,"p":"a","v":349,"g":297},{"t":7.75,"p":"b","v":350,"g":228},{"t":7.76,"p":"c","v":349,"g":366},{"t":7.77,"p":"a","v":-347,"g":-295},{"t":7.78,"p":"b","v":-344,"g":-224},{"t":7.79,"p":"c","v":-339,"g":-356},{"t":7.8,"p":"a","v":333,"g":283},{"t":7.81,"p":"b","v":325,"g":211},{"t":7.82,"p":"c","v":317,"g":333},{"t":7.83,"p":"a","v":-307,"g":-261}],
"dA":[{"t":2.19,"d":-20,"g":-20},{"t":2.2,"d":342,"g":95},{"t":2.2223,"d":-350,"g":-316},{"t":2.2494,"d":355,"g":98},{"t":2.2744,"d":-350,"g":-316},{"t":2.3002,"d":350,"g":95},{"t":2.3239,"d":-330,"g":-316},{"t":2.3509,"d":300,"g":67},{"t":2.3733,"d":-260,"g":-255},{"t":2.3983,"d":215,"g":48},{"t":2.422,"d":-176,"g":-176},{"t":2.4491,"d":118,"g":5},{"t":2.466,"d":-64,"g":-78},{"t":2.4964,"d":10,"g":-50},{"t":2.5066,"d":-5,"g":-62},{"t":2.5371,"d":56,"g":-8},{"t":2.5506,"d":-120,"g":-126},{"t":2.5777,"d":174,"g":25},{"t":2.6014,"d":-204,"g":-204},{"t":2.625,"d":263,"g":53},{"t":2.6487,"d":-288,"g":-288},{"t":2.6724,"d":328,"g":81},{"t":2.6995,"d":-350,"g":-340},{"t":2.7232,"d":350,"g":95},{"t":2.7503,"d":-364,"g":-350},{"t":2.7739,"d":361,"g":95},{"t":2.801,"d":-350,"g":-340},{"t":2.8112,"d":34,"g":0}],
"qA":[{"t":2.1905,"q":-338},{"t":2.2088,"q":352},{"t":2.2237,"q":14},{"t":2.2406,"q":360},{"t":2.2582,"q":-360},{"t":2.2744,"q":6},{"t":2.292,"q":-352},{"t":2.3096,"q":344},{"t":2.3252,"q":6},{"t":2.3408,"q":316},{"t":2.3577,"q":-282},{"t":2.3746,"q":6},{"t":2.3915,"q":-226},{"t":2.4085,"q":206},{"t":2.4261,"q":6},{"t":2.4423,"q":135},{"t":2.4592,"q":-107},{"t":2.4728,"q":-14},{"t":2.4863,"q":-22},{"t":2.4998,"q":3},{"t":2.5134,"q":-22},{"t":2.5269,"q":5},{"t":2.5425,"q":-99},{"t":2.5607,"q":141},{"t":2.5763,"q":6},{"t":2.5932,"q":212},{"t":2.6102,"q":-220},{"t":2.6271,"q":6},{"t":2.644,"q":-288},{"t":2.6609,"q":316},{"t":2.6765,"q":6},{"t":2.6927,"q":347},{"t":2.7096,"q":-361},{"t":2.7266,"q":6},{"t":2.7435,"q":-367},{"t":2.7604,"q":372},{"t":2.776,"q":6},{"t":2.7929,"q":358},{"t":2.8078,"q":-352},{"t":2.8112,"q":-330}],
"fA":[{"t":2.19,"k":14.72,"b":15.25,"r":15.1,"g":14.75},{"t":2.197,"k":14.73,"b":14.8,"r":14.85,"g":14.75},{"t":2.205,"k":14.74,"b":15.1,"r":14.8,"g":14.78},{"t":2.212,"k":14.75,"b":14.55,"r":14.8,"g":14.8},{"t":2.218,"k":14.76,"b":14.9,"r":14.85,"g":14.7},{"t":2.225,"k":14.77,"b":14.5,"r":14.8,"g":14.8},{"t":2.233,"k":14.78,"b":15.0,"r":14.85,"g":14.8},{"t":2.24,"k":14.79,"b":15.45,"r":15.3,"g":14.85},{"t":2.248,"k":14.8,"b":14.9,"r":14.85,"g":14.82},{"t":2.255,"k":14.81,"b":15.35,"r":14.95,"g":14.85},{"t":2.262,"k":14.82,"b":14.75,"r":14.85,"g":14.8},{"t":2.27,"k":14.83,"b":15.3,"r":14.95,"g":14.85},{"t":2.277,"k":14.84,"b":14.6,"r":14.85,"g":14.85},{"t":2.285,"k":14.84,"b":15.0,"r":14.9,"g":14.87},{"t":2.292,"k":14.85,"b":15.5,"r":15.4,"g":14.9},{"t":2.3,"k":14.86,"b":14.9,"r":14.95,"g":14.88},{"t":2.305,"k":14.86,"b":15.4,"r":15.0,"g":14.9},{"t":2.31,"k":14.87,"b":14.85,"r":14.9,"g":14.9},{"t":2.318,"k":14.88,"b":15.3,"r":15.1,"g":14.9},{"t":2.325,"k":14.88,"b":14.8,"r":14.95,"g":14.9},{"t":2.333,"k":14.89,"b":15.2,"r":15.0,"g":14.9},{"t":2.342,"k":14.9,"b":15.4,"r":15.25,"g":14.92},{"t":2.35,"k":14.91,"b":14.95,"r":14.95,"g":14.92},{"t":2.36,"k":14.92,"b":15.15,"r":15.0,"g":14.93},{"t":2.37,"k":14.93,"b":14.95,"r":14.95,"g":14.93},{"t":2.38,"k":14.94,"b":15.1,"r":15.0,"g":14.94},{"t":2.39,"k":14.95,"b":15.05,"r":15.0,"g":14.95},{"t":2.4,"k":14.96,"b":14.95,"r":14.96,"g":14.96},{"t":2.41,"k":14.97,"b":15.1,"r":15.0,"g":14.97},{"t":2.42,"k":14.97,"b":14.8,"r":14.97,"g":14.97},{"t":2.43,"k":14.98,"b":15.1,"r":15.0,"g":14.98},{"t":2.45,"k":14.99,"b":15.02,"r":15.0,"g":14.99},{"t":2.5,"k":15.0,"b":15.0,"r":15.0,"g":15.0},{"t":2.55,"k":14.99,"b":15.1,"r":15.0,"g":14.99},{"t":2.6,"k":14.97,"b":15.2,"r":15.05,"g":14.97},{"t":2.61,"k":14.96,"b":14.95,"r":14.9,"g":14.9},{"t":2.63,"k":14.94,"b":15.05,"r":14.95,"g":14.95},{"t":2.645,"k":14.92,"b":15.35,"r":15.15,"g":14.92},{"t":2.655,"k":14.91,"b":15.5,"r":15.35,"g":14.9},{"t":2.665,"k":14.9,"b":15.0,"r":14.95,"g":14.85},{"t":2.675,"k":14.89,"b":14.85,"r":14.85,"g":14.88},{"t":2.688,"k":14.87,"b":15.3,"r":15.1,"g":14.85},{"t":2.695,"k":14.86,"b":14.6,"r":14.9,"g":14.7},{"t":2.702,"k":14.85,"b":15.7,"r":15.5,"g":14.85},{"t":2.71,"k":14.84,"b":15.0,"r":14.95,"g":14.8},{"t":2.72,"k":14.83,"b":14.8,"r":14.85,"g":14.8},{"t":2.73,"k":14.81,"b":15.1,"r":14.95,"g":14.8},{"t":2.74,"k":14.8,"b":14.7,"r":14.8,"g":14.75},{"t":2.748,"k":14.79,"b":15.45,"r":15.15,"g":14.6},{"t":2.755,"k":14.78,"b":15.6,"r":15.35,"g":14.65},{"t":2.765,"k":14.77,"b":14.9,"r":14.85,"g":14.8},{"t":2.78,"k":14.75,"b":14.8,"r":14.7,"g":14.75},{"t":2.79,"k":14.74,"b":14.95,"r":14.8,"g":14.7},{"t":2.8,"k":14.73,"b":14.4,"r":14.7,"g":14.5},{"t":2.805,"k":14.73,"b":15.5,"r":15.2,"g":14.7},{"t":2.811,"k":14.72,"b":15.3,"r":15.1,"g":14.75}],
"dB":[{"t":4.727,"d":370,"g":175},{"t":4.7515,"d":-370,"g":-217},{"t":4.777,"d":370,"g":180},{"t":4.8018,"d":-362,"g":-217},{"t":4.8194,"d":333,"g":175},{"t":4.8497,"d":-304,"g":-188},{"t":4.8709,"d":281,"g":145},{"t":4.9,"d":-217,"g":-150},{"t":4.9182,"d":188,"g":182},{"t":4.9485,"d":-110,"g":-110},{"t":4.9667,"d":72,"g":72},{"t":4.9879,"d":20,"g":20},{"t":4.995,"d":5,"g":5},{"t":5.003,"d":20,"g":20},{"t":5.0303,"d":-72,"g":-72},{"t":5.0515,"d":121,"g":121},{"t":5.0727,"d":-159,"g":-93},{"t":5.1,"d":222,"g":145},{"t":5.12,"d":-260,"g":-130},{"t":5.1503,"d":312,"g":188},{"t":5.1697,"d":-333,"g":-130},{"t":5.2,"d":367,"g":217},{"t":5.2212,"d":-362,"g":-173},{"t":5.2485,"d":385,"g":231},{"t":5.2697,"d":-362,"g":-168},{"t":5.2887,"d":-230,"g":-165}],
"qB":[{"t":4.7291,"q":-24},{"t":4.7424,"q":-365},{"t":4.7594,"q":365},{"t":4.7758,"q":6},{"t":4.7927,"q":356},{"t":4.8091,"q":-334},{"t":4.8255,"q":-6},{"t":4.8412,"q":-334},{"t":4.8576,"q":280},{"t":4.8727,"q":6},{"t":4.8909,"q":219},{"t":4.9079,"q":-213},{"t":4.9242,"q":-15},{"t":4.9406,"q":-128},{"t":4.9576,"q":97},{"t":4.9697,"q":15},{"t":4.9818,"q":21},{"t":4.9939,"q":12},{"t":5.0061,"q":21},{"t":5.0182,"q":10},{"t":5.03,"q":30},{"t":5.0412,"q":97},{"t":5.0564,"q":-128},{"t":5.0727,"q":-6},{"t":5.0897,"q":-207},{"t":5.1079,"q":268},{"t":5.1224,"q":6},{"t":5.1394,"q":304},{"t":5.1564,"q":-304},{"t":5.1727,"q":0},{"t":5.1891,"q":-350},{"t":5.2061,"q":365},{"t":5.223,"q":6},{"t":5.2394,"q":371},{"t":5.2558,"q":-365},{"t":5.2727,"q":-6},{"t":5.2867,"q":-213}],
"fB":[{"t":4.729,"k":2.55,"b":2.7,"r":2.6,"g":2.55},{"t":4.735,"k":2.5,"b":2.1,"r":2.35,"g":2.5},{"t":4.742,"k":2.43,"b":3.0,"r":2.75,"g":2.45},{"t":4.75,"k":2.36,"b":2.2,"r":2.25,"g":2.35},{"t":4.757,"k":2.29,"b":1.9,"r":2.1,"g":2.3},{"t":4.765,"k":2.21,"b":2.5,"r":2.35,"g":2.2},{"t":4.772,"k":2.15,"b":3.05,"r":2.7,"g":2.2},{"t":4.78,"k":2.07,"b":2.3,"r":2.2,"g":2.07},{"t":4.788,"k":2.0,"b":1.65,"r":1.85,"g":1.95},{"t":4.795,"k":1.93,"b":2.3,"r":2.05,"g":1.93},{"t":4.81,"k":1.79,"b":2.5,"r":2.2,"g":1.8},{"t":4.818,"k":1.71,"b":1.2,"r":1.5,"g":1.7},{"t":4.83,"k":1.6,"b":1.8,"r":1.65,"g":1.6},{"t":4.845,"k":1.46,"b":2.05,"r":1.75,"g":1.46},{"t":4.855,"k":1.37,"b":1.0,"r":1.2,"g":1.35},{"t":4.87,"k":1.22,"b":1.45,"r":1.25,"g":1.22},{"t":4.885,"k":1.08,"b":1.55,"r":1.3,"g":1.08},{"t":4.895,"k":0.99,"b":0.65,"r":0.85,"g":0.99},{"t":4.91,"k":0.85,"b":1.15,"r":0.95,"g":0.85},{"t":4.925,"k":0.71,"b":0.5,"r":0.65,"g":0.71},{"t":4.94,"k":0.57,"b":0.7,"r":0.6,"g":0.57},{"t":4.955,"k":0.42,"b":0.4,"r":0.45,"g":0.42},{"t":4.97,"k":0.28,"b":0.35,"r":0.3,"g":0.28},{"t":5.0,"k":0,"b":0.05,"r":0,"g":0},{"t":5.03,"k":-0.28,"b":0.05,"r":-0.2,"g":-0.28},{"t":5.055,"k":-0.52,"b":0.05,"r":-0.45,"g":-0.52},{"t":5.062,"k":-0.58,"b":-0.75,"r":-0.6,"g":-0.58},{"t":5.075,"k":-0.71,"b":-0.85,"r":-0.7,"g":-0.71},{"t":5.09,"k":-0.85,"b":-0.6,"r":-0.75,"g":-0.85},{"t":5.1,"k":-0.94,"b":-1.45,"r":-1.2,"g":-0.94},{"t":5.115,"k":-1.08,"b":-0.95,"r":-1.0,"g":-1.08},{"t":5.13,"k":-1.22,"b":-1.55,"r":-1.35,"g":-1.22},{"t":5.145,"k":-1.37,"b":-0.85,"r":-1.05,"g":-1.35},{"t":5.158,"k":-1.49,"b":-1.8,"r":-1.6,"g":-1.5},{"t":5.17,"k":-1.6,"b":-2.0,"r":-1.85,"g":-1.6},{"t":5.185,"k":-1.74,"b":-1.2,"r":-1.35,"g":-1.74},{"t":5.2,"k":-1.88,"b":-2.2,"r":-1.95,"g":-1.88},{"t":5.21,"k":-1.98,"b":-2.45,"r":-2.2,"g":-1.98},{"t":5.225,"k":-2.12,"b":-1.55,"r":-1.8,"g":-2.12},{"t":5.238,"k":-2.24,"b":-2.6,"r":-2.35,"g":-2.24},{"t":5.25,"k":-2.36,"b":-2.8,"r":-2.5,"g":-2.36},{"t":5.262,"k":-2.47,"b":-1.9,"r":-2.15,"g":-2.47},{"t":5.272,"k":-2.56,"b":-3.15,"r":-2.85,"g":-2.56},{"t":5.287,"k":-2.7,"b":-2.8,"r":-2.75,"g":-2.7}],
"dC":[{"t":7.1932,"d":50,"g":50},{"t":7.2034,"d":349,"g":349},{"t":7.2271,"d":-360,"g":-94},{"t":7.2536,"d":371,"g":371},{"t":7.2773,"d":-360,"g":-86},{"t":7.3031,"d":354,"g":354},{"t":7.3268,"d":-337,"g":-66},{"t":7.3525,"d":300,"g":300},{"t":7.3776,"d":-266,"g":-51},{"t":7.4014,"d":220,"g":220},{"t":7.4251,"d":-180,"g":-23},{"t":7.4488,"d":120,"g":135},{"t":7.4671,"d":-66,"g":20},{"t":7.4861,"d":-37,"g":40},{"t":7.5031,"d":-9,"g":50},{"t":7.5132,"d":-17,"g":45},{"t":7.5336,"d":69,"g":100},{"t":7.5519,"d":-114,"g":-9},{"t":7.5776,"d":177,"g":183},{"t":7.6,"d":-214,"g":-37},{"t":7.6251,"d":249,"g":249},{"t":7.6488,"d":-294,"g":-51},{"t":7.6759,"d":320,"g":315},{"t":7.6997,"d":-343,"g":-74},{"t":7.7234,"d":363,"g":326},{"t":7.7471,"d":-371,"g":-86},{"t":7.7742,"d":363,"g":326},{"t":7.798,"d":-360,"g":-86},{"t":7.8183,"d":291,"g":291}],
"qC":[{"t":7.1932,"q":-336},{"t":7.2115,"q":344},{"t":7.2285,"q":0},{"t":7.2454,"q":364},{"t":7.2624,"q":-370},{"t":7.2793,"q":-6},{"t":7.2963,"q":-358},{"t":7.3119,"q":344},{"t":7.3288,"q":0},{"t":7.3437,"q":302},{"t":7.3607,"q":-286},{"t":7.3776,"q":-6},{"t":7.3946,"q":-230},{"t":7.4115,"q":202},{"t":7.4264,"q":0},{"t":7.442,"q":126},{"t":7.459,"q":-90},{"t":7.4725,"q":-14},{"t":7.4861,"q":-28},{"t":7.4997,"q":-6},{"t":7.5132,"q":-22},{"t":7.5268,"q":-6},{"t":7.5424,"q":-98},{"t":7.5593,"q":134},{"t":7.5756,"q":0},{"t":7.5932,"q":196},{"t":7.6102,"q":-238},{"t":7.6264,"q":-6},{"t":7.642,"q":-294},{"t":7.659,"q":308},{"t":7.6759,"q":0},{"t":7.6915,"q":344},{"t":7.7085,"q":-364},{"t":7.7254,"q":-6},{"t":7.7424,"q":-370},{"t":7.7573,"q":364},{"t":7.7742,"q":0},{"t":7.7912,"q":358},{"t":7.8081,"q":-350},{"t":7.8183,"q":-196}],
"fC":[{"t":7.193,"k":-14.72,"b":-14.75,"r":-14.8,"g":-14.72},{"t":7.2,"k":-14.73,"b":-15.25,"r":-14.95,"g":-14.75},{"t":7.205,"k":-14.74,"b":-14.6,"r":-14.85,"g":-14.55},{"t":7.21,"k":-14.74,"b":-15.6,"r":-15.25,"g":-14.8},{"t":7.218,"k":-14.75,"b":-15.0,"r":-14.95,"g":-14.85},{"t":7.228,"k":-14.76,"b":-14.9,"r":-14.85,"g":-14.85},{"t":7.24,"k":-14.77,"b":-15.1,"r":-14.95,"g":-14.75},{"t":7.25,"k":-14.78,"b":-15.6,"r":-15.45,"g":-14.85},{"t":7.257,"k":-14.79,"b":-15.65,"r":-15.6,"g":-14.85},{"t":7.265,"k":-14.8,"b":-15.0,"r":-15.0,"g":-14.85},{"t":7.28,"k":-14.82,"b":-14.95,"r":-14.9,"g":-14.85},{"t":7.295,"k":-14.84,"b":-15.3,"r":-15.1,"g":-14.85},{"t":7.305,"k":-14.85,"b":-15.7,"r":-15.5,"g":-14.9},{"t":7.312,"k":-14.86,"b":-15.1,"r":-15.0,"g":-14.65},{"t":7.325,"k":-14.87,"b":-15.0,"r":-14.95,"g":-14.9},{"t":7.34,"k":-14.88,"b":-15.1,"r":-15.0,"g":-14.75},{"t":7.352,"k":-14.9,"b":-15.55,"r":-15.45,"g":-14.9},{"t":7.36,"k":-14.9,"b":-15.2,"r":-15.1,"g":-14.9},{"t":7.375,"k":-14.92,"b":-15.05,"r":-15.0,"g":-14.92},{"t":7.4,"k":-14.94,"b":-15.2,"r":-15.1,"g":-14.94},{"t":7.41,"k":-14.95,"b":-15.05,"r":-15.0,"g":-14.95},{"t":7.445,"k":-14.97,"b":-15.1,"r":-15.1,"g":-14.97},{"t":7.46,"k":-14.98,"b":-15.05,"r":-15.0,"g":-14.98},{"t":7.5,"k":-15.0,"b":-15.05,"r":-15.0,"g":-15.0},{"t":7.55,"k":-14.99,"b":-15.05,"r":-15.0,"g":-14.99},{"t":7.57,"k":-14.98,"b":-14.7,"r":-14.95,"g":-14.98},{"t":7.575,"k":-14.98,"b":-15.15,"r":-15.0,"g":-14.98},{"t":7.59,"k":-14.97,"b":-15.05,"r":-14.97,"g":-14.97},{"t":7.61,"k":-14.96,"b":-15.2,"r":-15.05,"g":-14.96},{"t":7.625,"k":-14.95,"b":-15.1,"r":-15.05,"g":-14.95},{"t":7.64,"k":-14.93,"b":-15.25,"r":-15.2,"g":-14.93},{"t":7.655,"k":-14.92,"b":-14.9,"r":-15.0,"g":-14.92},{"t":7.665,"k":-14.91,"b":-14.75,"r":-14.95,"g":-14.9},{"t":7.675,"k":-14.9,"b":-15.1,"r":-15.0,"g":-14.9},{"t":7.69,"k":-14.88,"b":-15.55,"r":-15.45,"g":-14.88},{"t":7.7,"k":-14.87,"b":-15.1,"r":-15.0,"g":-14.85},{"t":7.71,"k":-14.86,"b":-14.7,"r":-14.9,"g":-14.86},{"t":7.725,"k":-14.84,"b":-15.0,"r":-14.95,"g":-14.84},{"t":7.74,"k":-14.82,"b":-15.5,"r":-15.4,"g":-14.82},{"t":7.75,"k":-14.81,"b":-15.0,"r":-14.95,"g":-14.8},{"t":7.765,"k":-14.79,"b":-14.55,"r":-14.85,"g":-14.79},{"t":7.78,"k":-14.77,"b":-14.9,"r":-14.9,"g":-14.77},{"t":7.79,"k":-14.76,"b":-15.45,"r":-15.35,"g":-14.76},{"t":7.8,"k":-14.75,"b":-14.6,"r":-14.85,"g":-14.75},{"t":7.81,"k":-14.73,"b":-15.0,"r":-14.9,"g":-14.73},{"t":7.818,"k":-14.72,"b":-14.85,"r":-14.8,"g":-14.72}]
},
"vconcat":[
{"hconcat":[
{"width":20,"height":10,"data":{"values":[]},"mark":"point","view":{"stroke":null}},
{"vconcat":[
{"width":438,"height":83,"data":{"name":"leg"},
"encoding":{"y":{"field":"p","type":"nominal","scale":{"domain":["a","b","c"],"paddingInner":0,"paddingOuter":0.2},"axis":null}},
"layer":[
{"transform":[{"filter":"datum.m !== 'Reference'"}],"mark":{"type":"tick","orient":"horizontal","size":73,"thickness":3},
"encoding":{"x":{"field":"m","type":"nominal","bandPosition":0.4,"scale":{"domain":["Inverse Maps [9]","Proposed VBR","Full-VBR [15]","Reference"],"paddingInner":0,"paddingOuter":0},"axis":null},
"color":{"field":"s","type":"nominal","scale":{"domain":["IMa","IMb","IMc","PVa","PVb","PVc","FVa","FVb","FVc"],"range":["#24439a","#3a6fe2","#6a9ef6","#d40000","#ff2222","#ff3a3a","#1c6a1c","#2a8c2a","#40c040"]},"legend":null}}},
{"transform":[{"filter":"datum.m === 'Reference'"}],"mark":{"type":"tick","orient":"horizontal","size":73,"thickness":1.6,"color":"#222222"},
"encoding":{"x":{"field":"m","type":"nominal","bandPosition":0.4,"scale":{"domain":["Inverse Maps [9]","Proposed VBR","Full-VBR [15]","Reference"],"paddingInner":0,"paddingOuter":0},"axis":null}}},
{"mark":{"type":"text","text":"i","fontSize":20,"fontStyle":"italic","align":"left","baseline":"middle","font":"Liberation Serif","color":"black"},
"encoding":{"x":{"field":"m","type":"nominal","bandPosition":0.8,"scale":{"domain":["Inverse Maps [9]","Proposed VBR","Full-VBR [15]","Reference"],"paddingInner":0,"paddingOuter":0},"axis":null}}},
{"mark":{"type":"text","fontSize":14,"fontStyle":"italic","align":"left","baseline":"middle","dx":7,"dy":7,"font":"Liberation Serif","color":"black"},
"encoding":{"x":{"field":"m","type":"nominal","bandPosition":0.8,"scale":{"domain":["Inverse Maps [9]","Proposed VBR","Full-VBR [15]","Reference"],"paddingInner":0,"paddingOuter":0},"axis":null},"text":{"field":"p"}}},
{"transform":[{"filter":"datum.m === 'Reference'"}],"mark":{"type":"text","text":"*","fontSize":14,"align":"left","baseline":"middle","dx":8,"dy":-9,"font":"Liberation Serif","color":"black"},
"encoding":{"x":{"field":"m","type":"nominal","bandPosition":0.8,"scale":{"domain":["Inverse Maps [9]","Proposed VBR","Full-VBR [15]","Reference"],"paddingInner":0,"paddingOuter":0},"axis":null}}}
]},
{"width":1030,"height":54,
"encoding":{"x":{"field":"t","type":"quantitative","scale":{"domain":[0,10],"nice":false},"axis":null}},
"layer":[
{"data":{"name":"topE"},"mark":{"type":"area","color":"black","stroke":"#e00000","strokeWidth":1,"clip":true},
"encoding":{"x":{"field":"t","type":"quantitative","scale":{"domain":[0,10],"nice":false},"axis":{"values":[1,2,3,4,5,6,7,8,9],"labels":false,"title":null,"grid":false}},
"y":{"field":"u","type":"quantitative","scale":{"domain":[-440,440],"nice":false},"title":"Current (A)","axis":{"values":[-350,0,350],"grid":true}},"y2":{"field":"n"}}},
{"data":{"name":"topE"},"mark":{"type":"bar","color":"#33aa33","size":1,"opacity":0.7,"clip":true},
"encoding":{"x":{"field":"t","type":"quantitative","scale":{"domain":[0,10],"nice":false},"axis":{"orient":"top","values":[1,2,3,4,5,6,7,8,9],"labels":false,"grid":false,"title":"i","titleFontStyle":"italic","titleFontSize":21,"titleAngle":0,"titleAlign":"right","titleBaseline":"alphabetic","titleX":512,"titleY":-8}},
"y":{"field":"u","type":"quantitative","scale":{"domain":[-440,440],"nice":false},"title":"Current (A)"},"y2":{"field":"n"}}},
{"data":{"name":"bands"},"mark":{"type":"rect","color":"#cccccc","opacity":0.7},
"encoding":{"x":{"field":"s","type":"quantitative","scale":{"domain":[0,10],"nice":false},"axis":{"orient":"top","ticks":false,"labels":false,"grid":false,"title":"abc","titleFontStyle":"italic","titleFontSize":15,"titleAngle":0,"titleAlign":"left","titleBaseline":"alphabetic","titleX":513,"titleY":-4}},"x2":{"field":"e"}}}
],
"resolve":{"axis":{"x":"independent"}}},
{"width":1030,"height":54,"data":{"name":"top"},
"encoding":{"x":{"field":"t","type":"quantitative","scale":{"domain":[0,10],"nice":false},"axis":null}},
"layer":[
{"mark":{"type":"line","color":"#e00000","strokeWidth":1.6,"clip":true},
"encoding":{"x":{"field":"t","type":"quantitative","scale":{"domain":[0,10],"nice":false},"axis":{"values":[1,2,3,4,5,6,7,8,9],"labels":false,"title":null,"grid":false}},
"y":{"field":"d","type":"quantitative","scale":{"domain":[-420,420],"nice":false},"title":"Current (A)","axis":{"values":[-350,0,350],"grid":true}}}},
{"mark":{"type":"line","color":"#00dd00","strokeWidth":1.3,"clip":true},
"encoding":{"y":{"field":"g","type":"quantitative","scale":{"domain":[-420,420],"nice":false},"title":"Current (A)"}}},
{"mark":{"type":"line","color":"black","strokeWidth":0.8,"clip":true},
"encoding":{"x":{"field":"t","type":"quantitative","scale":{"domain":[0,10],"nice":false},"axis":{"orient":"top","values":[1,2,3,4,5,6,7,8,9],"labels":false,"grid":false,"title":"i","titleFontStyle":"italic","titleFontSize":21,"titleAngle":0,"titleAlign":"right","titleBaseline":"alphabetic","titleX":514,"titleY":-8}},
"y":{"field":"d","type":"quantitative","scale":{"domain":[-420,420],"nice":false},"title":"Current (A)"}}},
{"data":{"name":"bands"},"mark":{"type":"rect","color":"#cccccc","opacity":0.7},
"encoding":{"x":{"field":"s","type":"quantitative","scale":{"domain":[0,10],"nice":false},"axis":{"orient":"top","ticks":false,"labels":false,"grid":false,"title":"d","titleFontStyle":"italic","titleFontSize":15,"titleAngle":0,"titleAlign":"left","titleBaseline":"alphabetic","titleX":515,"titleY":-4}},"x2":{"field":"e"}}}
],
"resolve":{"axis":{"x":"independent"}}},
{"width":1030,"height":53,"data":{"name":"top"},
"encoding":{"x":{"field":"t","type":"quantitative","scale":{"domain":[0,10],"nice":false},"axis":null}},
"layer":[
{"mark":{"type":"line","color":"#00e000","strokeWidth":1.6,"clip":true},
"encoding":{"x":{"field":"t","type":"quantitative","scale":{"domain":[0,10],"nice":false},"axis":{"values":[1,2,3,4,5,6,7,8,9],"labels":false,"title":null,"grid":false}},
"y":{"field":"q","type":"quantitative","scale":{"domain":[-420,420],"nice":false},"title":"Current (A)","axis":{"values":[-350,0,350],"grid":true}}}},
{"mark":{"type":"line","color":"black","strokeWidth":1.3,"clip":true},
"encoding":{"x":{"field":"t","type":"quantitative","scale":{"domain":[0,10],"nice":false},"axis":{"orient":"top","values":[1,2,3,4,5,6,7,8,9],"labels":false,"grid":false,"title":"i","titleFontStyle":"italic","titleFontSize":21,"titleAngle":0,"titleAlign":"right","titleBaseline":"alphabetic","titleX":514,"titleY":-8}},
"y":{"field":"q","type":"quantitative","scale":{"domain":[-420,420],"nice":false},"title":"Current (A)"}}},
{"data":{"name":"bands"},"mark":{"type":"rect","color":"#cccccc","opacity":0.7},
"encoding":{"x":{"field":"s","type":"quantitative","scale":{"domain":[0,10],"nice":false},"axis":{"orient":"top","ticks":false,"labels":false,"grid":false,"title":"q","titleFontStyle":"italic","titleFontSize":15,"titleAngle":0,"titleAlign":"left","titleBaseline":"alphabetic","titleX":515,"titleY":-4}},"x2":{"field":"e"}}}
],
"resolve":{"axis":{"x":"independent"}}},
{"width":1030,"height":50,"data":{"name":"topF"},
"encoding":{"x":{"field":"t","type":"quantitative","scale":{"domain":[0,10],"nice":false},"axis":null}},
"layer":[
{"mark":{"type":"line","strokeWidth":2,"clip":true},
"encoding":{"x":{"field":"t","type":"quantitative","scale":{"domain":[0,10],"nice":false},"axis":{"values":[0,1,2,3,4,5,6,7,8,9,10],"tickCount":11,"title":"Time (s)","grid":true,"labelFontSize":17}},
"y":{"field":"f","type":"quantitative","scale":{"domain":[-20,20],"nice":false},"title":"Current (A)","axis":{"values":[-20,0,20],"grid":true}},
"color":{"datum":"Inverse Maps [9]","type":"nominal","scale":{"domain":["Inverse Maps [9]","Full-VBR [15]","Proposed VBR","i*d, i*q, i*f"],"range":["#0000ff","#00ee00","#ff0000","#000000"]},"legend":{"orient":"none","legendX":652,"legendY":-54,"columns":2,"title":null,"direction":"horizontal"}}}},
{"mark":{"type":"line","strokeWidth":2,"clip":true},
"encoding":{"y":{"field":"f","type":"quantitative","scale":{"domain":[-20,20],"nice":false},"title":"Current (A)"},"color":{"datum":"Proposed VBR","type":"nominal"}}},
{"mark":{"type":"line","strokeWidth":2.6,"clip":true},
"encoding":{"y":{"field":"f","type":"quantitative","scale":{"domain":[-20,20],"nice":false},"title":"Current (A)"},"color":{"datum":"Full-VBR [15]","type":"nominal"}}},
{"mark":{"type":"line","strokeWidth":1.3,"clip":true},
"encoding":{"x":{"field":"t","type":"quantitative","scale":{"domain":[0,10],"nice":false},"axis":{"orient":"top","values":[1,2,3,4,5,6,7,8,9],"labels":false,"grid":false,"title":"i","titleFontStyle":"italic","titleFontSize":21,"titleAngle":0,"titleAlign":"right","titleBaseline":"alphabetic","titleX":514,"titleY":-8}},
"y":{"field":"f","type":"quantitative","scale":{"domain":[-20,20],"nice":false},"title":"Current (A)"},"color":{"datum":"i*d, i*q, i*f","type":"nominal"}}},
{"data":{"name":"bands"},"mark":{"type":"rect","color":"#cccccc","opacity":0.7},
"encoding":{"x":{"field":"s","type":"quantitative","scale":{"domain":[0,10],"nice":false},"axis":{"orient":"top","ticks":false,"labels":false,"grid":false,"title":"f","titleFontStyle":"italic","titleFontSize":15,"titleAngle":0,"titleAlign":"left","titleBaseline":"alphabetic","titleX":515,"titleY":-4}},"x2":{"field":"e"}}}
],
"resolve":{"axis":{"x":"independent"}}}
],"bounds":"flush","spacing":37,"center":true,"resolve":{"scale":{"color":"independent"},"legend":{"color":"independent"}}}
],"spacing":0},
{"hconcat":[
{"vconcat":[
{"width":306,"height":89,"data":{"name":"abcA"},
"encoding":{"x":{"field":"t","type":"quantitative","scale":{"domain":[2.19,2.811],"nice":false,"zero":false},"axis":null},
"y":{"field":"v","type":"quantitative","scale":{"domain":[-400,405],"nice":false},"title":"Current (A)","axis":{"values":[-350,0,350],"grid":true}}},
"layer":[
{"mark":{"type":"line","color":"#d80000","strokeWidth":3,"interpolate":"monotone","clip":true},"encoding":{"detail":{"field":"p"},"x":{"field":"t","type":"quantitative","scale":{"domain":[2.19,2.811],"nice":false,"zero":false},"axis":{"orient":"top","ticks":false,"labels":false,"grid":false,"title":"i","titleFontStyle":"italic","titleFontSize":20,"titleAngle":0,"titleAlign":"right","titleBaseline":"alphabetic","titleX":148,"titleY":-7}}}},
{"transform":[{"filter":{"field":"p","equal":"a"}}],"mark":{"type":"line","color":"#1e6e1e","strokeWidth":2.4,"interpolate":"monotone","clip":true},"encoding":{"y":{"field":"g","type":"quantitative","scale":{"domain":[-400,405],"nice":false},"title":"Current (A)"}}},
{"transform":[{"filter":{"field":"p","equal":"b"}}],"mark":{"type":"line","color":"#2e9a2e","strokeWidth":2.4,"interpolate":"monotone","clip":true},"encoding":{"y":{"field":"g","type":"quantitative","scale":{"domain":[-400,405],"nice":false},"title":"Current (A)"}}},
{"transform":[{"filter":{"field":"p","equal":"c"}}],"mark":{"type":"line","color":"#46c846","strokeWidth":2.4,"interpolate":"monotone","clip":true},"encoding":{"y":{"field":"g","type":"quantitative","scale":{"domain":[-400,405],"nice":false},"title":"Current (A)"}}},
{"mark":{"type":"line","color":"black","strokeWidth":1.4,"interpolate":"monotone","clip":true},"encoding":{"detail":{"field":"p"},"x":{"field":"t","type":"quantitative","scale":{"domain":[2.19,2.811],"nice":false,"zero":false},"axis":{"orient":"top","ticks":false,"labels":false,"grid":false,"title":"abc","titleFontStyle":"italic","titleFontSize":15,"titleAngle":0,"titleAlign":"left","titleBaseline":"alphabetic","titleX":149,"titleY":-3}}}}
],"resolve":{"axis":{"x":"independent"}}},
{"width":306,"height":89,"data":{"name":"dA"},
"encoding":{"x":{"field":"t","type":"quantitative","scale":{"domain":[2.19,2.811],"nice":false,"zero":false},"axis":null}},
"layer":[
{"mark":{"type":"line","color":"#e00000","strokeWidth":3.2,"interpolate":"monotone","clip":true},"encoding":{"x":{"field":"t","type":"quantitative","scale":{"domain":[2.19,2.811],"nice":false,"zero":false},"axis":{"orient":"top","ticks":false,"labels":false,"grid":false,"title":"i","titleFontStyle":"italic","titleFontSize":20,"titleAngle":0,"titleAlign":"right","titleBaseline":"alphabetic","titleX":152,"titleY":-7}},"y":{"field":"d","type":"quantitative","scale":{"domain":[-375,378],"nice":false},"title":"Current (A)","axis":{"values":[-350,0,350],"grid":true}}}},
{"mark":{"type":"line","color":"#00e600","strokeWidth":2.6,"interpolate":"monotone","clip":true},"encoding":{"y":{"field":"g","type":"quantitative","scale":{"domain":[-375,378],"nice":false},"title":"Current (A)"}}},
{"mark":{"type":"line","color":"black","strokeWidth":1.5,"interpolate":"monotone","clip":true},"encoding":{"x":{"field":"t","type":"quantitative","scale":{"domain":[2.19,2.811],"nice":false,"zero":false},"axis":{"orient":"top","ticks":false,"labels":false,"grid":false,"title":"d","titleFontStyle":"italic","titleFontSize":15,"titleAngle":0,"titleAlign":"left","titleBaseline":"alphabetic","titleX":153,"titleY":-3}},"y":{"field":"d","type":"quantitative","scale":{"domain":[-375,378],"nice":false},"title":"Current (A)"}}}
],"resolve":{"axis":{"x":"independent"}}},
{"width":306,"height":89,"data":{"name":"qA"},
"encoding":{"x":{"field":"t","type":"quantitative","scale":{"domain":[2.19,2.811],"nice":false,"zero":false},"axis":null},
"y":{"field":"q","type":"quantitative","scale":{"domain":[-385,390],"nice":false},"title":"Current (A)","axis":{"values":[-350,0,350],"grid":true}}},
"layer":[
{"mark":{"type":"line","color":"#00e600","strokeWidth":3.2,"interpolate":"monotone","clip":true},"encoding":{"x":{"field":"t","type":"quantitative","scale":{"domain":[2.19,2.811],"nice":false,"zero":false},"axis":{"orient":"top","ticks":false,"labels":false,"grid":false,"title":"i","titleFontStyle":"italic","titleFontSize":20,"titleAngle":0,"titleAlign":"right","titleBaseline":"alphabetic","titleX":152,"titleY":-7}}}},
{"mark":{"type":"line","color":"#e00000","strokeWidth":2.2,"interpolate":"monotone","clip":true}},
{"mark":{"type":"line","color":"black","strokeWidth":1.5,"interpolate":"monotone","clip":true},"encoding":{"x":{"field":"t","type":"quantitative","scale":{"domain":[2.19,2.811],"nice":false,"zero":false},"axis":{"orient":"top","ticks":false,"labels":false,"grid":false,"title":"q","titleFontStyle":"italic","titleFontSize":15,"titleAngle":0,"titleAlign":"left","titleBaseline":"alphabetic","titleX":153,"titleY":-3}}}}
],"resolve":{"axis":{"x":"independent"}}},
{"width":306,"height":89,"data":{"name":"fA"},
"encoding":{"x":{"field":"t","type":"quantitative","scale":{"domain":[2.19,2.811],"nice":false,"zero":false},"axis":null}},
"layer":[
{"mark":{"type":"line","color":"#0000ff","strokeWidth":2.6,"clip":true},"encoding":{"x":{"field":"t","type":"quantitative","scale":{"domain":[2.19,2.811],"nice":false,"zero":false},"axis":{"values":[2.2,2.4,2.6,2.8],"tickCount":4,"title":["Time (s)","(a)"],"titleLineHeight":26,"grid":true,"labelFontSize":17}},"y":{"field":"b","type":"quantitative","scale":{"domain":[13.15,16.65],"nice":false,"zero":false},"title":"Current (A)","axis":{"values":[14,15,16],"tickCount":3,"grid":true,"labelOverlap":false}}}},
{"mark":{"type":"line","color":"#ff0000","strokeWidth":2.6,"clip":true},"encoding":{"x":{"field":"t","type":"quantitative","scale":{"domain":[2.19,2.811],"nice":false,"zero":false},"axis":{"orient":"top","ticks":false,"labels":false,"grid":false,"title":"i","titleFontStyle":"italic","titleFontSize":20,"titleAngle":0,"titleAlign":"right","titleBaseline":"alphabetic","titleX":152,"titleY":-7}},"y":{"field":"r","type":"quantitative","scale":{"domain":[13.15,16.65],"nice":false,"zero":false},"title":"Current (A)"}}},
{"mark":{"type":"line","color":"#00dd00","strokeWidth":2.2,"clip":true},"encoding":{"y":{"field":"g","type":"quantitative","scale":{"domain":[13.15,16.65],"nice":false,"zero":false},"title":"Current (A)"}}},
{"mark":{"type":"line","color":"black","strokeWidth":1.5,"clip":true},"encoding":{"x":{"field":"t","type":"quantitative","scale":{"domain":[2.19,2.811],"nice":false,"zero":false},"axis":{"orient":"top","values":[2.2,2.4,2.6,2.8],"tickCount":4,"labels":false,"grid":false,"title":"f","titleFontStyle":"italic","titleFontSize":15,"titleAngle":0,"titleAlign":"left","titleBaseline":"alphabetic","titleX":153,"titleY":-3}},"y":{"field":"k","type":"quantitative","scale":{"domain":[13.15,16.65],"nice":false,"zero":false},"title":"Current (A)"}}}
],
"resolve":{"axis":{"x":"independent"}}}
],"bounds":"flush","spacing":34},
{"vconcat":[
{"width":306,"height":89,"data":{"name":"abcB"},
"encoding":{"x":{"field":"t","type":"quantitative","scale":{"domain":[4.729,5.287],"nice":false,"zero":false},"axis":null},
"y":{"field":"v","type":"quantitative","scale":{"domain":[-400,405],"nice":false},"title":"Current (A)","axis":{"values":[-350,0,350],"grid":true}}},
"layer":[
{"mark":{"type":"line","color":"#d80000","strokeWidth":3,"interpolate":"monotone","clip":true},"encoding":{"detail":{"field":"p"},"x":{"field":"t","type":"quantitative","scale":{"domain":[4.729,5.287],"nice":false,"zero":false},"axis":{"orient":"top","ticks":false,"labels":false,"grid":false,"title":"i","titleFontStyle":"italic","titleFontSize":20,"titleAngle":0,"titleAlign":"right","titleBaseline":"alphabetic","titleX":148,"titleY":-7}}}},
{"transform":[{"filter":{"field":"p","equal":"a"}}],"mark":{"type":"line","color":"#1e6e1e","strokeWidth":2.4,"interpolate":"monotone","clip":true},"encoding":{"y":{"field":"g","type":"quantitative","scale":{"domain":[-400,405],"nice":false},"title":"Current (A)"}}},
{"transform":[{"filter":{"field":"p","equal":"b"}}],"mark":{"type":"line","color":"#2e9a2e","strokeWidth":2.4,"interpolate":"monotone","clip":true},"encoding":{"y":{"field":"g","type":"quantitative","scale":{"domain":[-400,405],"nice":false},"title":"Current (A)"}}},
{"transform":[{"filter":{"field":"p","equal":"c"}}],"mark":{"type":"line","color":"#46c846","strokeWidth":2.4,"interpolate":"monotone","clip":true},"encoding":{"y":{"field":"g","type":"quantitative","scale":{"domain":[-400,405],"nice":false},"title":"Current (A)"}}},
{"data":{"name":"slowB"},"mark":{"type":"line","color":"#1e6e1e","strokeWidth":2.4,"interpolate":"monotone","clip":true},"encoding":{"y":{"field":"g","type":"quantitative","scale":{"domain":[-400,405],"nice":false},"title":"Current (A)"}}},
{"mark":{"type":"line","color":"black","strokeWidth":1.4,"interpolate":"monotone","clip":true},"encoding":{"detail":{"field":"p"},"x":{"field":"t","type":"quantitative","scale":{"domain":[4.729,5.287],"nice":false,"zero":false},"axis":{"orient":"top","ticks":false,"labels":false,"grid":false,"title":"abc","titleFontStyle":"italic","titleFontSize":15,"titleAngle":0,"titleAlign":"left","titleBaseline":"alphabetic","titleX":149,"titleY":-3}}}}
],"resolve":{"axis":{"x":"independent"}}},
{"width":306,"height":89,"data":{"name":"dB"},
"encoding":{"x":{"field":"t","type":"quantitative","scale":{"domain":[4.729,5.287],"nice":false,"zero":false},"axis":null}},
"layer":[
{"mark":{"type":"line","color":"#e00000","strokeWidth":3.2,"interpolate":"monotone","clip":true},"encoding":{"x":{"field":"t","type":"quantitative","scale":{"domain":[4.729,5.287],"nice":false,"zero":false},"axis":{"orient":"top","ticks":false,"labels":false,"grid":false,"title":"i","titleFontStyle":"italic","titleFontSize":20,"titleAngle":0,"titleAlign":"right","titleBaseline":"alphabetic","titleX":152,"titleY":-7}},"y":{"field":"d","type":"quantitative","scale":{"domain":[-375,378],"nice":false},"title":"Current (A)","axis":{"values":[-350,0,350],"grid":true}}}},
{"mark":{"type":"line","color":"#00e600","strokeWidth":2.6,"interpolate":"monotone","clip":true},"encoding":{"y":{"field":"g","type":"quantitative","scale":{"domain":[-375,378],"nice":false},"title":"Current (A)"}}},
{"mark":{"type":"line","color":"black","strokeWidth":1.5,"interpolate":"monotone","clip":true},"encoding":{"x":{"field":"t","type":"quantitative","scale":{"domain":[4.729,5.287],"nice":false,"zero":false},"axis":{"orient":"top","ticks":false,"labels":false,"grid":false,"title":"d","titleFontStyle":"italic","titleFontSize":15,"titleAngle":0,"titleAlign":"left","titleBaseline":"alphabetic","titleX":153,"titleY":-3}},"y":{"field":"d","type":"quantitative","scale":{"domain":[-375,378],"nice":false},"title":"Current (A)"}}}
],"resolve":{"axis":{"x":"independent"}}},
{"width":306,"height":89,"data":{"name":"qB"},
"encoding":{"x":{"field":"t","type":"quantitative","scale":{"domain":[4.729,5.287],"nice":false,"zero":false},"axis":null},
"y":{"field":"q","type":"quantitative","scale":{"domain":[-385,390],"nice":false},"title":"Current (A)","axis":{"values":[-350,0,350],"grid":true}}},
"layer":[
{"mark":{"type":"line","color":"#00e600","strokeWidth":3.2,"interpolate":"monotone","clip":true},"encoding":{"x":{"field":"t","type":"quantitative","scale":{"domain":[4.729,5.287],"nice":false,"zero":false},"axis":{"orient":"top","ticks":false,"labels":false,"grid":false,"title":"i","titleFontStyle":"italic","titleFontSize":20,"titleAngle":0,"titleAlign":"right","titleBaseline":"alphabetic","titleX":152,"titleY":-7}}}},
{"mark":{"type":"line","color":"#e00000","strokeWidth":2.2,"interpolate":"monotone","clip":true}},
{"mark":{"type":"line","color":"black","strokeWidth":1.5,"interpolate":"monotone","clip":true},"encoding":{"x":{"field":"t","type":"quantitative","scale":{"domain":[4.729,5.287],"nice":false,"zero":false},"axis":{"orient":"top","ticks":false,"labels":false,"grid":false,"title":"q","titleFontStyle":"italic","titleFontSize":15,"titleAngle":0,"titleAlign":"left","titleBaseline":"alphabetic","titleX":153,"titleY":-3}}}}
],"resolve":{"axis":{"x":"independent"}}},
{"width":306,"height":89,"data":{"name":"fB"},
"encoding":{"x":{"field":"t","type":"quantitative","scale":{"domain":[4.729,5.287],"nice":false,"zero":false},"axis":null}},
"layer":[
{"mark":{"type":"line","color":"#0000ff","strokeWidth":2.6,"clip":true},"encoding":{"x":{"field":"t","type":"quantitative","scale":{"domain":[4.729,5.287],"nice":false,"zero":false},"axis":{"values":[4.8,4.9,5,5.1,5.2],"tickCount":5,"title":["Time (s)","(b)"],"titleLineHeight":26,"grid":true,"labelFontSize":17}},"y":{"field":"b","type":"quantitative","scale":{"domain":[-4.16,4.29],"nice":false,"zero":false},"title":"Current (A)","axis":{"values":[-4,-2,0,2,4],"tickCount":5,"grid":true,"labelOverlap":false,"labelFontSize":15}}}},
{"mark":{"type":"line","color":"#ff0000","strokeWidth":2.6,"clip":true},"encoding":{"x":{"field":"t","type":"quantitative","scale":{"domain":[4.729,5.287],"nice":false,"zero":false},"axis":{"orient":"top","ticks":false,"labels":false,"grid":false,"title":"i","titleFontStyle":"italic","titleFontSize":20,"titleAngle":0,"titleAlign":"right","titleBaseline":"alphabetic","titleX":152,"titleY":-7}},"y":{"field":"r","type":"quantitative","scale":{"domain":[-4.16,4.29],"nice":false,"zero":false},"title":"Current (A)"}}},
{"mark":{"type":"line","color":"#00dd00","strokeWidth":2.2,"clip":true},"encoding":{"y":{"field":"g","type":"quantitative","scale":{"domain":[-4.16,4.29],"nice":false,"zero":false},"title":"Current (A)"}}},
{"mark":{"type":"line","color":"black","strokeWidth":1.5,"clip":true},"encoding":{"x":{"field":"t","type":"quantitative","scale":{"domain":[4.729,5.287],"nice":false,"zero":false},"axis":{"orient":"top","values":[4.8,4.9,5,5.1,5.2],"tickCount":5,"labels":false,"grid":false,"title":"f","titleFontStyle":"italic","titleFontSize":15,"titleAngle":0,"titleAlign":"left","titleBaseline":"alphabetic","titleX":153,"titleY":-3}},"y":{"field":"k","type":"quantitative","scale":{"domain":[-4.16,4.29],"nice":false,"zero":false},"title":"Current (A)"}}}
],
"resolve":{"axis":{"x":"independent"}}}
],"bounds":"flush","spacing":34},
{"vconcat":[
{"width":306,"height":89,"data":{"name":"abcC"},
"encoding":{"x":{"field":"t","type":"quantitative","scale":{"domain":[7.193,7.818],"nice":false,"zero":false},"axis":null},
"y":{"field":"v","type":"quantitative","scale":{"domain":[-400,405],"nice":false},"title":"Current (A)","axis":{"values":[-350,0,350],"grid":true}}},
"layer":[
{"mark":{"type":"line","color":"#d80000","strokeWidth":3,"interpolate":"monotone","clip":true},"encoding":{"detail":{"field":"p"},"x":{"field":"t","type":"quantitative","scale":{"domain":[7.193,7.818],"nice":false,"zero":false},"axis":{"orient":"top","ticks":false,"labels":false,"grid":false,"title":"i","titleFontStyle":"italic","titleFontSize":20,"titleAngle":0,"titleAlign":"right","titleBaseline":"alphabetic","titleX":148,"titleY":-7}}}},
{"transform":[{"filter":{"field":"p","equal":"a"}}],"mark":{"type":"line","color":"#1e6e1e","strokeWidth":2.4,"interpolate":"monotone","clip":true},"encoding":{"y":{"field":"g","type":"quantitative","scale":{"domain":[-400,405],"nice":false},"title":"Current (A)"}}},
{"transform":[{"filter":{"field":"p","equal":"b"}}],"mark":{"type":"line","color":"#2e9a2e","strokeWidth":2.4,"interpolate":"monotone","clip":true},"encoding":{"y":{"field":"g","type":"quantitative","scale":{"domain":[-400,405],"nice":false},"title":"Current (A)"}}},
{"transform":[{"filter":{"field":"p","equal":"c"}}],"mark":{"type":"line","color":"#46c846","strokeWidth":2.4,"interpolate":"monotone","clip":true},"encoding":{"y":{"field":"g","type":"quantitative","scale":{"domain":[-400,405],"nice":false},"title":"Current (A)"}}},
{"mark":{"type":"line","color":"black","strokeWidth":1.4,"interpolate":"monotone","clip":true},"encoding":{"detail":{"field":"p"},"x":{"field":"t","type":"quantitative","scale":{"domain":[7.193,7.818],"nice":false,"zero":false},"axis":{"orient":"top","ticks":false,"labels":false,"grid":false,"title":"abc","titleFontStyle":"italic","titleFontSize":15,"titleAngle":0,"titleAlign":"left","titleBaseline":"alphabetic","titleX":149,"titleY":-3}}}}
],"resolve":{"axis":{"x":"independent"}}},
{"width":306,"height":89,"data":{"name":"dC"},
"encoding":{"x":{"field":"t","type":"quantitative","scale":{"domain":[7.193,7.818],"nice":false,"zero":false},"axis":null}},
"layer":[
{"mark":{"type":"line","color":"#e00000","strokeWidth":3.2,"interpolate":"monotone","clip":true},"encoding":{"x":{"field":"t","type":"quantitative","scale":{"domain":[7.193,7.818],"nice":false,"zero":false},"axis":{"orient":"top","ticks":false,"labels":false,"grid":false,"title":"i","titleFontStyle":"italic","titleFontSize":20,"titleAngle":0,"titleAlign":"right","titleBaseline":"alphabetic","titleX":152,"titleY":-7}},"y":{"field":"d","type":"quantitative","scale":{"domain":[-375,378],"nice":false},"title":"Current (A)","axis":{"values":[-350,0,350],"grid":true}}}},
{"mark":{"type":"line","color":"#00e600","strokeWidth":2.6,"interpolate":"monotone","clip":true},"encoding":{"y":{"field":"g","type":"quantitative","scale":{"domain":[-375,378],"nice":false},"title":"Current (A)"}}},
{"mark":{"type":"line","color":"black","strokeWidth":1.5,"interpolate":"monotone","clip":true},"encoding":{"x":{"field":"t","type":"quantitative","scale":{"domain":[7.193,7.818],"nice":false,"zero":false},"axis":{"orient":"top","ticks":false,"labels":false,"grid":false,"title":"d","titleFontStyle":"italic","titleFontSize":15,"titleAngle":0,"titleAlign":"left","titleBaseline":"alphabetic","titleX":153,"titleY":-3}},"y":{"field":"d","type":"quantitative","scale":{"domain":[-375,378],"nice":false},"title":"Current (A)"}}}
],"resolve":{"axis":{"x":"independent"}}},
{"width":306,"height":89,"data":{"name":"qC"},
"encoding":{"x":{"field":"t","type":"quantitative","scale":{"domain":[7.193,7.818],"nice":false,"zero":false},"axis":null},
"y":{"field":"q","type":"quantitative","scale":{"domain":[-385,390],"nice":false},"title":"Current (A)","axis":{"values":[-350,0,350],"grid":true}}},
"layer":[
{"mark":{"type":"line","color":"#00e600","strokeWidth":3.2,"interpolate":"monotone","clip":true},"encoding":{"x":{"field":"t","type":"quantitative","scale":{"domain":[7.193,7.818],"nice":false,"zero":false},"axis":{"orient":"top","ticks":false,"labels":false,"grid":false,"title":"i","titleFontStyle":"italic","titleFontSize":20,"titleAngle":0,"titleAlign":"right","titleBaseline":"alphabetic","titleX":152,"titleY":-7}}}},
{"mark":{"type":"line","color":"#e00000","strokeWidth":2.2,"interpolate":"monotone","clip":true}},
{"mark":{"type":"line","color":"black","strokeWidth":1.5,"interpolate":"monotone","clip":true},"encoding":{"x":{"field":"t","type":"quantitative","scale":{"domain":[7.193,7.818],"nice":false,"zero":false},"axis":{"orient":"top","ticks":false,"labels":false,"grid":false,"title":"q","titleFontStyle":"italic","titleFontSize":15,"titleAngle":0,"titleAlign":"left","titleBaseline":"alphabetic","titleX":153,"titleY":-3}}}}
],"resolve":{"axis":{"x":"independent"}}},
{"width":306,"height":89,"data":{"name":"fC"},
"encoding":{"x":{"field":"t","type":"quantitative","scale":{"domain":[7.193,7.818],"nice":false,"zero":false},"axis":null}},
"layer":[
{"mark":{"type":"line","color":"#0000ff","strokeWidth":2.6,"clip":true},"encoding":{"x":{"field":"t","type":"quantitative","scale":{"domain":[7.193,7.818],"nice":false,"zero":false},"axis":{"values":[7.2,7.4,7.6,7.8],"tickCount":4,"title":["Time (s)","(c)"],"titleLineHeight":26,"grid":true,"labelFontSize":17}},"y":{"field":"b","type":"quantitative","scale":{"domain":[-16.83,-13.49],"nice":false,"zero":false},"title":"Current (A)","axis":{"values":[-16,-15,-14],"tickCount":3,"grid":true,"labelOverlap":false}}}},
{"mark":{"type":"line","color":"#ff0000","strokeWidth":2.6,"clip":true},"encoding":{"x":{"field":"t","type":"quantitative","scale":{"domain":[7.193,7.818],"nice":false,"zero":false},"axis":{"orient":"top","ticks":false,"labels":false,"grid":false,"title":"i","titleFontStyle":"italic","titleFontSize":20,"titleAngle":0,"titleAlign":"right","titleBaseline":"alphabetic","titleX":152,"titleY":-7}},"y":{"field":"r","type":"quantitative","scale":{"domain":[-16.83,-13.49],"nice":false,"zero":false},"title":"Current (A)"}}},
{"mark":{"type":"line","color":"#00dd00","strokeWidth":2.2,"clip":true},"encoding":{"y":{"field":"g","type":"quantitative","scale":{"domain":[-16.83,-13.49],"nice":false,"zero":false},"title":"Current (A)"}}},
{"mark":{"type":"line","color":"black","strokeWidth":1.5,"clip":true},"encoding":{"x":{"field":"t","type":"quantitative","scale":{"domain":[7.193,7.818],"nice":false,"zero":false},"axis":{"orient":"top","values":[7.2,7.4,7.6,7.8],"tickCount":4,"labels":false,"grid":false,"title":"f","titleFontStyle":"italic","titleFontSize":15,"titleAngle":0,"titleAlign":"left","titleBaseline":"alphabetic","titleX":153,"titleY":-3}},"y":{"field":"k","type":"quantitative","scale":{"domain":[-16.83,-13.49],"nice":false,"zero":false},"title":"Current (A)"}}}
],
"resolve":{"axis":{"x":"independent"}}}
],"bounds":"flush","spacing":34}
],"spacing":68}
],
"spacing":27
}
